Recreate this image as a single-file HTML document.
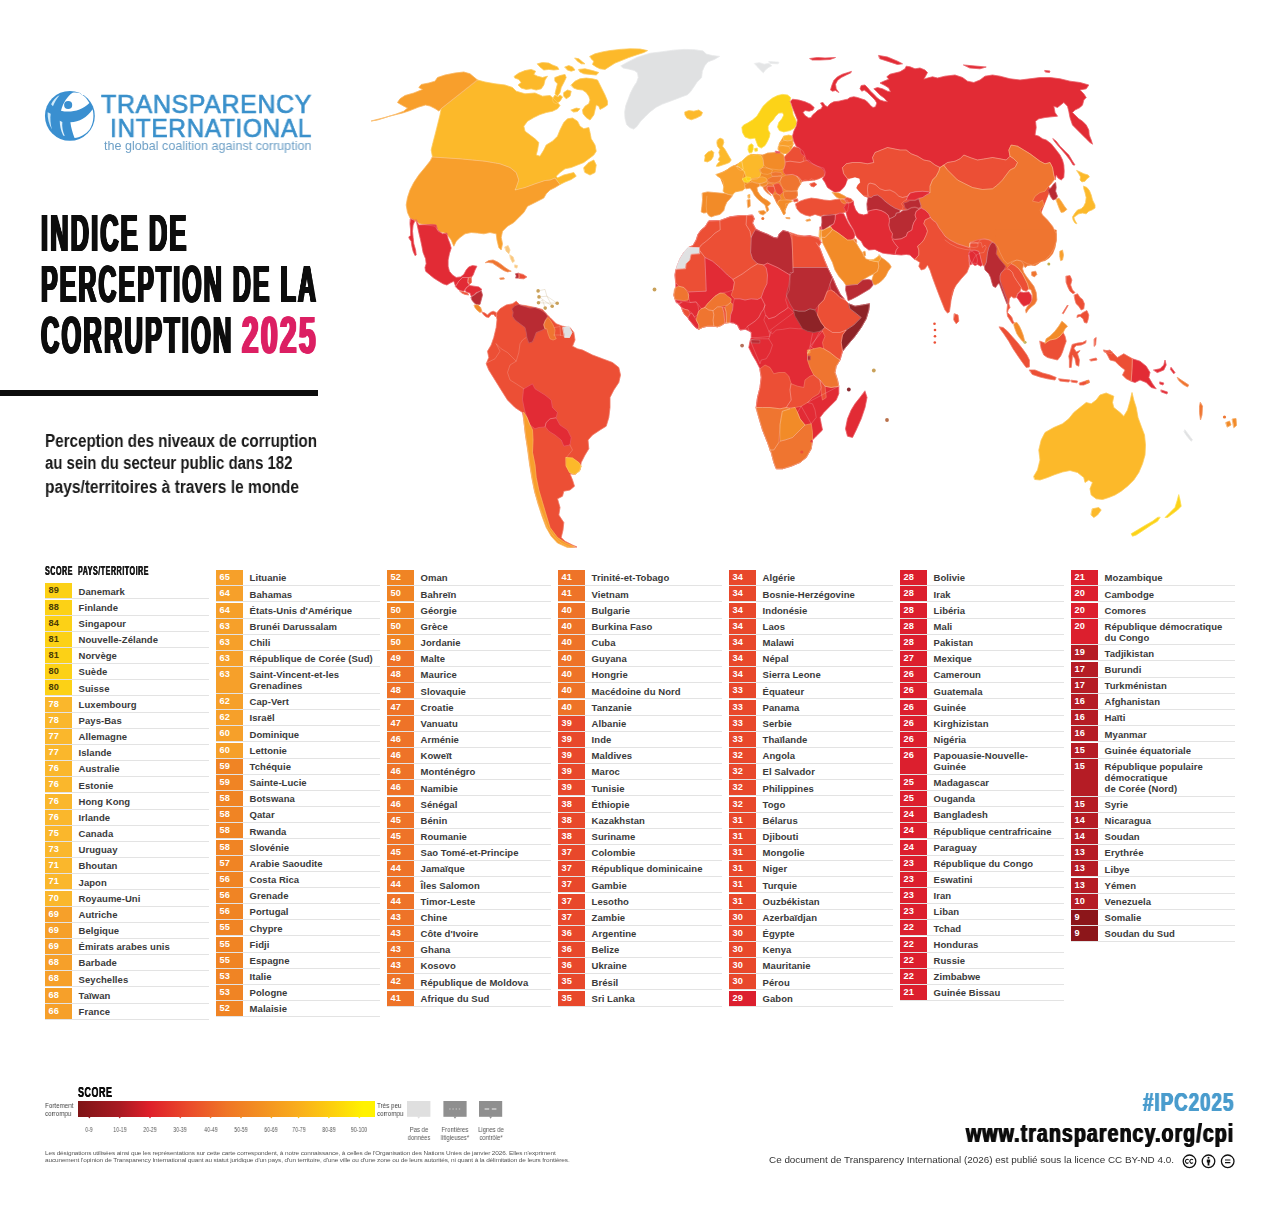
<!DOCTYPE html>
<html lang="fr"><head><meta charset="utf-8"><title>Indice de perception de la corruption 2025</title>
<style>
html,body{margin:0;padding:0;background:#fff}
body{width:1280px;height:1215px;overflow:hidden;font-family:"Liberation Sans",sans-serif;color:#111}
#page{position:relative;width:1280px;height:1215px;overflow:hidden;background:#fff}
#map{position:absolute;left:0;top:0}
.t{position:absolute;white-space:nowrap;line-height:1;transform-origin:0 0;margin:0}
.cond{font-weight:bold}
/* table */
.r{position:absolute;width:164px;border-bottom:1px solid #e3e3e3;box-sizing:content-box}
.r .s{position:absolute;left:0;top:0;bottom:0;width:27px;box-sizing:border-box;padding-left:3.6px;color:#fff;font-size:9.2px;line-height:15px;font-weight:bold;letter-spacing:.1px}
.r .s.d{color:#4b3b05}
.r .n{position:absolute;left:33.6px;top:2.2px;font-size:9.5px;line-height:11px;font-weight:bold;color:#3a3a3a;white-space:nowrap;letter-spacing:.05px}
.thick{letter-spacing:4.5px;text-shadow:2.3px 0 0 currentColor,-2.3px 0 0 currentColor,1.2px 0 0 currentColor,-1.2px 0 0 currentColor}
.t{will-change:transform}
.tk{font-size:6.6px;color:#555;text-align:center;transform:scaleX(.8);transform-origin:50% 0}
.tk2{font-size:7.4px;line-height:7.8px;color:#555;text-align:center;transform:scaleX(.8);transform-origin:50% 0}
.thick2{letter-spacing:.9px;text-shadow:.45px 0 0 currentColor,-.45px 0 0 currentColor}
.thick3{letter-spacing:1.4px;text-shadow:.8px 0 0 currentColor,-.8px 0 0 currentColor}
.cd{transform:scaleX(.78)}

</style></head>
<body>
<div id="page">
<svg id="map" width="1280" height="1215" viewBox="0 0 1280 1215">
<g stroke-linejoin="round" stroke-linecap="round">
<path d="M621.1 65.8 628.1 61.9 637.5 57.2 650.0 53.3 662.5 51.7 673.4 50.2 684.4 49.4 693.8 49.7 703.1 50.9 706.2 54.1 712.5 55.6 719.5 56.4 714.1 59.5 707.8 61.9 704.7 65.8 702.3 71.2 701.6 77.5 696.9 82.2 693.8 86.9 690.6 91.6 687.5 94.7 681.2 97.0 675.0 99.4 668.8 101.7 662.5 104.1 656.2 107.2 650.0 111.9 645.3 116.6 640.6 121.2 636.7 126.7 633.6 129.1 629.7 127.5 626.6 124.4 625.0 118.1 624.7 111.9 625.8 105.6 628.1 99.4 630.5 93.1 633.6 86.9 636.7 82.2 638.3 77.5 637.5 72.8 634.4 70.5 628.1 68.9 623.4 68.1Z" fill="#e0e1e2" stroke="#e0e1e2" stroke-width=".7"/>
<path d="M754.7 63.4 759.4 62.7 764.1 64.2 768.8 63.4 771.9 65.8 768.8 67.3 765.6 69.7 763.3 72.8 760.9 70.5 757.8 67.3Z" fill="#e4e5e6" stroke="#e4e5e6" stroke-width=".7"/>
<path d="M769.1 61.6 778.9 62.2 778.1 63.8 770.3 63.4Z" fill="#e4e5e6" stroke="#e4e5e6" stroke-width=".7"/>
<path d="M477.5 80.0 485.0 82.0 495.0 83.8 505.0 85.0 512.5 87.5 516.2 91.2 525.0 93.8 535.0 93.0 542.5 96.2 550.0 95.5 553.8 98.8 557.5 102.5 560.0 105.5 557.5 108.8 552.5 111.2 546.2 112.5 540.0 114.5 533.8 117.5 527.5 121.2 523.8 126.2 525.0 131.2 530.0 135.0 535.0 138.8 538.8 142.5 537.5 150.0 536.2 155.0 540.0 156.2 543.8 150.0 546.2 145.0 552.5 141.2 557.5 136.2 560.0 130.0 563.8 122.5 567.5 118.8 572.5 118.0 577.5 121.2 580.0 126.2 583.8 128.8 588.8 127.5 590.0 132.5 591.2 138.8 595.0 145.0 596.2 151.2 593.8 155.0 588.8 158.8 583.8 162.5 577.5 165.0 571.2 167.5 565.0 168.8 560.0 172.5 556.2 176.2 557.5 178.0 563.8 175.0 568.8 173.8 573.8 172.5 576.2 176.2 571.2 179.5 565.0 182.0 560.0 184.5 557.5 181.2 555.0 178.0 550.0 180.0 545.0 180.5 535.0 183.8 525.0 187.5 515.0 190.0 516.2 187.5 518.8 180.0 516.2 172.5 510.0 167.5 500.0 163.8 485.0 161.2 460.0 158.8 432.5 157.0 431.2 150.0 433.0 142.5 435.0 135.0 437.5 125.0 440.0 115.0 441.2 108.8Z" fill="#fcb92a" stroke="#fcb92a" stroke-width=".7"/>
<path d="M583.8 167.5 588.8 162.5 593.8 160.0 596.2 165.0 595.0 172.5 590.0 175.0 585.0 172.5Z" fill="#fcb92a" stroke="#fcb92a" stroke-width=".7"/>
<path d="M514.4 76.2 518.8 73.1 525.0 70.6 531.2 69.4 535.6 71.2 533.8 74.4 537.5 76.2 542.5 77.5 547.5 76.2 545.0 80.0 543.8 85.0 541.2 88.8 536.2 90.0 531.2 88.8 526.2 89.4 521.2 88.1 518.1 85.0 521.2 82.5 518.8 79.4 515.0 78.1Z" fill="#fcb92a" stroke="#fcb92a" stroke-width=".7"/>
<path d="M555.0 77.5 560.0 75.6 565.0 74.4 566.2 77.5 563.8 82.5 561.2 87.5 560.0 92.5 557.5 96.2 555.0 93.8 556.2 88.8 557.5 83.8 555.0 81.2Z" fill="#fcb92a" stroke="#fcb92a" stroke-width=".7"/>
<path d="M552.5 98.8 555.0 95.0 558.1 96.9 560.0 95.0 562.5 96.9 560.0 101.2 556.2 103.8 553.8 102.5Z" fill="#fcb92a" stroke="#fcb92a" stroke-width=".7"/>
<path d="M537.5 63.8 542.5 62.5 548.8 63.1 552.5 65.0 557.5 66.9 558.8 69.4 553.8 70.0 548.8 69.4 543.8 70.0 540.0 66.9Z" fill="#fcb92a" stroke="#fcb92a" stroke-width=".7"/>
<path d="M565.0 66.9 568.8 65.6 572.5 66.9 575.0 70.0 571.2 71.2 567.5 70.0Z" fill="#fcb92a" stroke="#fcb92a" stroke-width=".7"/>
<path d="M578.8 69.4 585.0 68.8 592.5 70.6 598.8 72.5 596.2 75.0 590.0 74.4 583.8 73.8 580.0 71.9Z" fill="#fcb92a" stroke="#fcb92a" stroke-width=".7"/>
<path d="M590.0 56.2 595.0 53.8 602.5 51.9 610.0 50.6 620.0 49.4 630.0 48.8 640.0 49.0 647.5 50.6 643.8 52.5 636.2 55.0 628.8 57.5 621.2 60.6 615.0 63.1 610.0 66.2 605.0 69.4 600.0 68.8 596.2 66.9 592.5 64.4 593.8 61.2 591.2 58.8Z" fill="#fcb92a" stroke="#fcb92a" stroke-width=".7"/>
<path d="M575.0 58.1 578.8 58.8 582.5 61.9 585.0 63.8 581.2 63.8 577.5 61.2Z" fill="#fcb92a" stroke="#fcb92a" stroke-width=".7"/>
<path d="M571.2 85.0 575.0 81.2 580.0 78.8 586.2 78.1 592.5 78.8 597.5 80.0 600.0 85.0 602.5 90.0 605.0 95.0 607.5 101.2 607.5 105.0 603.8 107.5 600.0 109.4 598.8 106.2 596.2 105.0 595.0 110.0 593.8 115.0 590.0 120.0 586.2 117.5 583.1 113.8 582.5 110.0 585.0 106.2 588.8 103.8 590.0 100.0 588.8 96.2 586.2 92.5 582.5 90.0 577.5 89.4 573.8 88.1Z" fill="#fcb92a" stroke="#fcb92a" stroke-width=".7"/>
<path d="M571.2 110.0 576.2 108.1 580.0 108.8 577.5 111.5 573.8 112.0Z" fill="#fcb92a" stroke="#fcb92a" stroke-width=".7"/>
<path d="M563.8 92.5 567.5 90.0 571.2 91.2 570.0 96.2 566.2 98.8 563.8 96.2Z" fill="#fcb92a" stroke="#fcb92a" stroke-width=".7"/>
<path d="M432.5 157.0 460.0 158.8 485.0 161.2 500.0 163.8 510.0 167.5 516.2 172.5 518.8 180.0 516.2 187.5 515.0 190.0 525.0 187.5 535.0 183.8 545.0 180.5 550.0 180.0 555.0 178.0 557.5 181.2 560.0 184.5 555.0 187.5 550.0 190.0 546.2 193.8 543.8 198.0 535.0 202.5 527.5 206.2 523.8 212.5 520.0 216.2 513.8 222.5 507.5 226.2 502.5 231.2 501.2 237.5 502.5 243.8 501.2 250.0 498.8 247.5 497.0 240.0 496.2 233.8 490.0 232.5 483.8 233.8 477.5 233.0 471.2 232.5 465.0 233.8 460.0 237.5 456.2 241.2 453.8 246.2 451.2 240.0 447.5 235.0 443.8 232.5 438.8 232.0 435.0 226.2 427.5 225.0 420.0 223.8 411.2 218.8 410.0 218.0 407.5 212.5 406.2 205.0 407.5 197.5 410.0 190.0 413.8 182.5 418.8 175.0 425.0 167.5 430.0 161.2Z" fill="#f89f2c" stroke="#f89f2c" stroke-width=".7"/>
<path d="M477.5 80.0 470.0 73.8 463.8 72.0 455.0 73.0 445.0 75.0 437.5 77.5 435.0 81.2 428.8 83.0 421.2 84.5 418.8 87.5 422.5 89.5 413.8 93.0 405.0 95.5 400.0 98.8 397.5 102.5 402.5 105.5 407.5 108.0 403.8 111.2 395.0 114.5 385.0 117.5 375.0 120.0 371.2 121.0 377.5 120.0 390.0 116.0 402.5 113.0 410.0 110.5 418.8 107.0 425.5 105.0 430.0 106.0 435.0 108.5 438.8 111.0 441.2 108.8Z" fill="#f89f2c" stroke="#f89f2c" stroke-width=".7"/>
<path d="M416.2 220.0 418.8 225.0 432.5 224.4 436.2 225.0 437.5 230.0 442.5 233.8 446.9 233.1 448.1 238.8 450.0 243.8 451.2 248.1 449.4 253.8 448.1 260.0 448.1 266.2 449.4 271.2 452.5 275.0 456.2 277.5 460.6 276.9 463.8 274.4 466.2 270.0 468.8 266.9 472.5 265.6 476.9 266.2 475.0 270.0 473.1 275.0 471.2 277.5 468.1 277.5 462.5 277.5 458.8 281.2 455.6 286.2 453.8 281.2 450.0 283.1 446.9 285.0 443.1 283.8 438.8 281.2 433.8 278.1 429.4 274.4 425.6 271.2 425.0 267.5 426.2 263.8 425.6 258.8 423.1 252.5 421.9 246.2 420.6 240.0 418.8 232.5Z" fill="#e22b35" stroke="#e22b35" stroke-width=".7"/>
<path d="M410.6 218.8 412.5 219.4 415.0 220.6 413.1 225.0 412.5 231.2 413.1 237.5 413.8 243.8 415.6 250.0 416.2 255.0 415.0 255.6 413.1 251.2 411.9 246.2 411.2 241.2 409.4 238.8 408.8 236.9 410.6 235.6 410.6 230.0 410.0 223.8Z" fill="#e22b35" stroke="#e22b35" stroke-width=".7"/>
<path d="M455.6 286.2 458.8 281.2 462.5 277.5 468.1 277.5 467.5 282.5 469.4 285.0 466.2 287.5 463.8 291.2 460.0 290.6 457.5 288.8Z" fill="#e22b35" stroke="#e22b35" stroke-width=".7"/>
<path d="M468.8 277.5 471.2 276.9 471.5 282.5 469.4 284.4 468.1 281.2Z" fill="#ec4f35" stroke="#ec4f35" stroke-width=".7"/>
<path d="M469.4 285.6 473.8 286.2 478.8 286.9 481.9 289.4 480.0 291.2 476.2 292.5 473.8 295.0 471.2 296.2 470.0 293.1 466.2 291.9 465.0 290.0 466.9 287.5Z" fill="#e22b35" stroke="#e22b35" stroke-width=".7"/>
<path d="M460.0 291.0 463.8 291.9 467.5 293.1 468.8 295.0 465.0 294.4 461.9 293.1Z" fill="#ec4f35" stroke="#ec4f35" stroke-width=".7"/>
<path d="M471.2 296.9 474.4 295.0 476.9 293.1 481.2 290.6 482.5 295.0 481.2 300.0 480.0 304.4 476.2 304.4 473.8 302.5 471.9 300.0Z" fill="#b92b33" stroke="#b92b33" stroke-width=".7"/>
<path d="M474.4 305.0 478.1 305.0 480.6 307.5 481.9 311.2 480.0 312.5 476.9 310.0 475.0 307.5Z" fill="#f28b28" stroke="#f28b28" stroke-width=".7"/>
<path d="M481.9 311.9 485.0 313.1 487.5 315.0 490.0 312.5 493.1 311.2 496.2 312.5 496.9 315.6 495.6 316.9 493.8 314.4 491.2 314.4 488.8 317.5 486.2 316.9 483.8 315.0Z" fill="#ec4f35" stroke="#ec4f35" stroke-width=".7"/>
<path d="M485.6 262.5 488.8 260.6 493.1 260.0 497.5 261.9 501.2 264.4 505.0 267.5 508.8 270.0 511.2 271.2 507.5 271.9 503.8 270.6 500.0 268.1 496.2 265.6 492.5 263.1 488.8 262.5Z" fill="#ef7530" stroke="#ef7530" stroke-width=".7"/>
<path d="M515.6 273.8 518.8 273.1 519.4 275.0 518.8 278.1 515.6 278.1 516.2 276.2Z" fill="#b92b33" stroke="#b92b33" stroke-width=".7"/>
<path d="M519.0 273.5 523.1 274.4 526.9 276.9 523.8 278.8 519.4 278.5Z" fill="#ec4f35" stroke="#ec4f35" stroke-width=".7"/>
<path d="M500.0 278.1 503.8 277.8 504.4 279.0 500.6 279.4Z" fill="#ef7530" stroke="#ef7530" stroke-width=".7"/>
<path d="M505.0 246.9 508.1 245.6 510.0 250.0 508.8 253.8 506.2 251.2Z" fill="#f9c77d" stroke="#f9c77d" stroke-width=".7"/>
<path d="M510.0 255.0 513.1 256.9 514.4 261.2 512.5 262.5 510.6 258.8Z" fill="#f9c77d" stroke="#f9c77d" stroke-width=".7"/>
<path d="M515.0 265.0 517.5 265.6 516.9 268.1 515.0 267.5Z" fill="#f9c77d" stroke="#f9c77d" stroke-width=".7"/>
<path d="M538.1 290.9 545.0 289.4 546.9 296.2 552.2 306.2 539.0 296.9 546.9 296.2 557.2 303.2 538.5 302.8 542.5 300.0 545.2 308.1" fill="none" stroke="#c9b48a" stroke-opacity="0.8" stroke-width="0.4"/>
<circle cx="538.1" cy="290.9" r="1.8" fill="#c9a15a"/>
<circle cx="539.0" cy="296.9" r="1.8" fill="#c9a15a"/>
<circle cx="538.5" cy="302.8" r="1.8" fill="#c9a15a"/>
<circle cx="545.2" cy="308.1" r="1.8" fill="#c9a15a"/>
<circle cx="552.2" cy="306.2" r="1.8" fill="#c9a15a"/>
<circle cx="557.2" cy="303.2" r="1.8" fill="#c9a15a"/>
<circle cx="654.5" cy="289.5" r="1.9" fill="#c9a15a"/>
<path d="M496.2 313.8 500.0 308.8 506.2 305.0 512.5 303.8 516.2 301.2 520.0 305.0 525.0 305.5 535.0 307.5 542.5 309.5 546.2 313.8 550.0 317.5 556.2 323.8 562.5 326.2 570.0 327.5 573.8 332.5 575.0 340.0 572.5 346.2 577.5 348.8 582.5 350.0 592.5 355.0 602.5 358.8 612.5 362.5 618.8 367.5 620.5 375.0 618.8 382.5 613.8 390.0 610.0 397.5 610.0 407.5 608.8 417.5 606.2 426.2 600.0 430.0 592.5 435.0 588.0 440.0 588.8 448.8 585.0 455.0 581.2 462.5 580.0 470.0 575.0 474.5 570.0 473.8 572.5 480.0 574.5 486.2 570.0 490.0 563.8 491.2 562.5 496.2 557.5 498.8 560.0 507.5 558.8 515.0 563.8 522.5 563.0 530.0 561.2 537.5 565.0 541.2 572.5 545.0 577.0 547.0 570.0 547.5 560.0 542.5 553.8 536.2 547.5 527.5 543.8 517.5 538.8 505.0 535.0 492.5 532.5 480.0 530.0 465.0 528.0 450.0 525.5 435.0 523.8 420.0 522.5 412.5 515.0 407.5 507.5 400.0 501.2 390.0 495.0 380.0 488.8 370.0 486.2 363.8 488.8 357.5 487.5 351.2 491.2 345.0 493.8 337.5 496.2 327.5 497.0 320.0Z" fill="#ec4f35" stroke="#ec4f35" stroke-width=".7"/>
<path d="M511.9 308.8 515.0 305.6 518.8 304.4 523.8 306.2 530.0 308.1 535.0 307.5 540.0 309.4 545.6 313.1 547.5 316.2 545.6 320.0 543.8 325.0 545.0 328.8 541.2 330.6 536.2 332.5 534.4 337.5 532.5 341.9 528.8 343.1 526.9 337.5 526.2 332.5 525.0 327.5 520.0 323.8 515.0 320.0 512.5 316.2 513.1 312.5Z" fill="#b92b33" stroke="#b92b33" stroke-width=".7"/>
<path d="M545.6 320.0 548.1 317.5 550.6 320.6 553.1 325.0 555.0 330.0 554.4 335.0 556.2 338.8 553.1 340.0 550.0 338.8 548.1 333.8 546.9 328.8 545.0 328.8 543.8 325.0Z" fill="#ef7530" stroke="#ef7530" stroke-width=".7"/>
<path d="M563.0 327.5 568.8 326.2 572.0 332.5 569.5 337.5 565.0 337.5Z" fill="#e0e1e2" stroke="#e0e1e2" stroke-width=".7"/>
<path d="M523.8 388.8 532.5 383.8 535.0 388.8 545.0 395.0 551.2 400.0 552.5 407.5 557.5 412.5 556.2 417.5 550.0 418.8 546.2 422.5 545.0 427.0 538.8 427.5 535.0 428.8 530.0 425.0 527.0 417.5 524.5 410.0 522.5 400.0Z" fill="#e22b35" stroke="#e22b35" stroke-width=".7"/>
<path d="M546.2 422.5 550.0 418.8 556.2 418.0 560.0 425.0 567.5 430.0 571.2 437.5 570.0 445.0 563.8 446.2 561.2 440.0 555.0 435.0 548.8 431.2 545.5 427.0Z" fill="#e22b35" stroke="#e22b35" stroke-width=".7"/>
<path d="M523.8 412.5 527.0 417.5 530.0 425.0 532.5 430.0 533.0 440.0 532.5 452.5 535.0 465.0 536.2 477.5 538.8 490.0 542.5 502.5 546.2 515.0 550.0 527.5 557.5 537.5 565.0 542.5 575.0 547.0 567.5 547.5 557.5 543.0 551.2 536.2 546.2 527.5 542.0 516.2 538.0 503.8 534.5 491.2 532.0 478.8 529.5 463.8 527.5 448.8 525.5 435.0 523.8 420.0Z" fill="#f89f2c" stroke="#f89f2c" stroke-width=".7"/>
<path d="M566.2 457.5 572.5 458.0 578.8 462.5 581.2 466.2 579.5 471.2 574.5 474.5 569.5 472.5 566.2 466.2Z" fill="#fcb92a" stroke="#fcb92a" stroke-width=".7"/>
<path d="M496.2 343.8 501.2 348.8 507.5 352.5 512.5 357.5 516.2 361.2 510.0 365.0 507.5 372.5 510.0 380.0 516.2 383.8 523.8 388.8" fill="none" stroke="#ffffff" stroke-opacity="0.4" stroke-width="0.45"/>
<path d="M487.5 362.5 495.0 358.8 500.0 351.2 496.2 343.8" fill="none" stroke="#ffffff" stroke-opacity="0.4" stroke-width="0.45"/>
<path d="M516.2 361.2 518.8 352.5 520.0 343.8 522.5 340.0 526.2 337.5" fill="none" stroke="#ffffff" stroke-opacity="0.4" stroke-width="0.45"/>
<path d="M570.0 445.0 572.5 450.0 567.5 456.2 566.2 457.5" fill="none" stroke="#ffffff" stroke-opacity="0.4" stroke-width="0.45"/>
<path d="M553.8 335.0 560.0 335.0 569.5 337.5" fill="none" stroke="#ffffff" stroke-opacity="0.4" stroke-width="0.45"/>
<path d="M554.5 327.5 560.0 326.5 560.0 326.5 560.5 335.5" fill="none" stroke="#ffffff" stroke-opacity="0.4" stroke-width="0.45"/>
<path d="M717.5 175.0 733.8 166.2 742.5 161.2 751.2 154.4 763.1 155.0 780.0 153.1 784.4 157.5 785.6 161.9 783.8 168.8 786.2 175.0 796.9 176.2 800.6 183.8 798.1 187.5 796.9 190.6 797.5 195.0 795.6 198.8 790.0 200.0 786.2 207.5 783.8 214.4 780.0 207.5 776.9 203.1 773.1 194.4 767.5 189.4 762.5 186.2 760.0 183.8 756.2 182.5 748.1 183.1 744.4 188.8 735.0 191.9 728.8 194.4 723.8 186.2 720.6 178.1Z" fill="#f28b28" stroke="#f28b28" stroke-width=".7"/>
<path d="M784.4 157.5 787.5 153.8 793.8 146.9 803.1 151.2 805.0 155.6 812.5 163.8 823.8 168.1 825.6 172.5 823.8 176.2 814.4 180.0 801.9 181.2 796.9 176.2 786.2 175.0 783.8 173.1 785.0 165.0Z" fill="#ec4f35" stroke="#ec4f35" stroke-width=".7"/>
<path d="M778.8 146.2 780.0 142.5 783.8 136.2 792.5 136.2 793.1 144.4 790.6 150.0 787.5 153.8 780.0 152.5Z" fill="#f89f2c" stroke="#f89f2c" stroke-width=".7"/>
<path d="M685.0 111.9 688.8 110.6 693.8 111.2 698.8 110.0 702.5 112.5 701.2 115.6 696.2 118.1 691.2 119.8 686.9 118.1 685.0 115.0Z" fill="#fcb92a" stroke="#fcb92a" stroke-width=".7"/>
<path d="M741.9 127.5 742.5 132.5 745.0 136.9 750.0 138.8 755.0 138.1 756.2 141.2 758.1 146.2 761.2 148.1 765.0 145.6 767.5 141.2 769.4 136.9 770.0 133.1 768.1 130.0 768.1 126.2 770.0 123.1 773.1 120.0 775.6 116.2 778.8 113.1 782.5 112.8 783.8 115.0 781.9 118.8 778.8 122.5 777.5 126.9 779.4 130.6 783.8 131.9 790.0 130.6 794.4 128.1 796.9 123.8 795.6 119.4 793.1 115.0 792.5 110.0 791.2 105.0 790.0 101.2 790.6 97.5 787.5 95.0 782.5 94.4 777.5 95.6 772.5 98.1 767.5 101.9 763.1 106.2 760.0 111.2 756.9 116.2 752.5 120.0 747.5 123.1 743.8 125.0Z" fill="#fcd318" stroke="#fcd318" stroke-width=".7"/>
<path d="M748.8 145.6 751.2 143.8 753.1 145.0 753.1 149.4 751.9 152.5 749.4 153.1 748.1 150.0Z" fill="#fcd318" stroke="#fcd318" stroke-width=".7"/>
<path d="M754.8 148.5 757.2 148.1 757.5 151.0 755.2 151.2Z" fill="#fcd318" stroke="#fcd318" stroke-width=".7"/>
<path d="M717.5 140.0 720.0 138.1 723.1 139.4 723.8 142.5 722.5 146.2 725.0 149.4 727.5 153.8 730.0 158.1 731.2 160.0 729.4 162.5 726.2 163.8 722.5 165.0 718.8 166.2 716.2 166.2 717.5 163.8 720.0 161.2 718.1 160.0 720.0 156.2 718.8 152.5 720.0 149.4 717.5 146.2 716.9 143.1Z" fill="#fcb92a" stroke="#fcb92a" stroke-width=".7"/>
<path d="M705.0 155.0 708.1 151.9 711.9 150.6 713.8 152.5 713.1 156.9 711.2 160.0 707.5 161.9 704.4 161.2 705.0 158.1Z" fill="#fcb92a" stroke="#fcb92a" stroke-width=".7"/>
<path d="M716.2 174.4 720.0 173.1 723.8 171.9 726.9 170.0 730.0 167.5 733.8 165.6 736.9 166.2 740.0 167.5 742.5 170.0 745.0 171.9 743.8 175.0 742.5 178.8 743.8 181.9 745.0 185.0 744.4 188.8 742.5 190.6 738.8 191.2 735.0 191.9 732.5 195.0 728.8 194.4 725.0 193.1 723.1 191.2 723.8 186.2 723.1 181.2 720.6 178.1 717.5 176.2Z" fill="#f89f2c" stroke="#f89f2c" stroke-width=".7"/>
<path d="M748.1 195.0 749.8 194.4 749.8 198.1 748.5 198.1Z" fill="#f89f2c" stroke="#f89f2c" stroke-width=".7"/>
<path d="M702.5 193.1 707.5 191.9 713.8 192.5 720.0 193.1 725.0 193.5 729.4 194.8 732.5 195.6 730.0 198.8 726.9 201.9 725.0 206.2 723.8 210.6 720.0 214.4 715.0 215.6 711.2 216.9 708.8 215.6 706.9 212.5 703.8 213.1 701.2 211.9 701.9 206.2 702.5 200.0Z" fill="#f28b28" stroke="#f28b28" stroke-width=".7"/>
<path d="M706.9 196.2 706.5 200.0 706.2 206.2 706.9 212.5" fill="none" stroke="#ffffff" stroke-opacity="0.4" stroke-width="0.45"/>
<path d="M736.9 166.2 738.8 163.1 741.9 161.2 742.5 165.0 743.1 168.8 742.5 170.0 740.0 167.5Z" fill="#fcb92a" stroke="#fcb92a" stroke-width=".7"/>
<path d="M736.9 166.2 740.0 167.5 742.5 170.0 740.6 170.6 738.1 169.0Z" fill="#f89f2c" stroke="#f89f2c" stroke-width=".7"/>
<path d="M741.9 161.2 745.0 158.1 748.1 155.6 751.2 154.4 753.8 155.0 757.5 154.4 761.2 155.6 763.1 160.0 763.5 165.0 762.5 167.5 760.0 169.4 761.2 172.5 760.0 176.2 757.5 178.8 753.8 179.4 750.6 180.0 747.5 181.2 746.2 178.8 745.6 175.0 744.4 171.9 742.5 170.0 743.1 168.8 742.5 165.0Z" fill="#fcb92a" stroke="#fcb92a" stroke-width=".7"/>
<path d="M742.5 178.8 746.2 176.9 750.6 177.5 751.2 180.0 748.1 182.5 744.4 181.9Z" fill="#fcd318" stroke="#fcd318" stroke-width=".7"/>
<path d="M751.2 178.8 757.5 177.5 762.5 176.9 766.2 178.1 766.9 181.2 762.5 183.1 757.5 183.8 753.8 182.5 751.2 181.2Z" fill="#f89f2c" stroke="#f89f2c" stroke-width=".7"/>
<path d="M744.4 185.0 748.1 183.1 752.5 181.9 756.2 182.5 760.0 183.8 759.4 186.2 756.9 187.5 757.5 191.2 760.0 195.0 763.1 198.1 767.5 200.6 770.6 203.1 769.4 205.0 767.5 206.2 768.8 210.0 766.9 211.9 766.2 208.8 765.0 205.0 761.2 201.9 757.5 198.8 754.4 195.0 752.5 191.2 750.0 188.1 746.2 188.8Z" fill="#f28b28" stroke="#f28b28" stroke-width=".7"/>
<path d="M758.8 211.2 763.8 210.6 766.2 212.5 763.1 215.0 760.0 213.8Z" fill="#f28b28" stroke="#f28b28" stroke-width=".7"/>
<path d="M747.5 200.0 750.0 199.4 750.2 206.2 748.1 207.5Z" fill="#f28b28" stroke="#f28b28" stroke-width=".7"/>
<circle cx="762.8" cy="218.5" r="1.5" fill="#ef7530"/>
<path d="M763.1 155.0 767.5 153.1 775.0 152.5 781.2 153.1 783.8 155.0 784.4 160.0 785.0 165.0 783.8 168.8 780.0 170.0 775.0 169.4 770.0 168.8 766.2 167.5 763.8 165.0 763.1 160.0Z" fill="#f28b28" stroke="#f28b28" stroke-width=".7"/>
<path d="M759.4 169.4 762.5 167.5 767.5 168.1 772.5 170.0 771.2 173.1 767.5 174.4 763.1 173.8 760.6 172.5Z" fill="#f28b28" stroke="#f28b28" stroke-width=".7"/>
<path d="M771.2 173.1 775.0 171.9 781.2 172.5 782.5 175.0 777.5 176.2 772.5 176.2Z" fill="#ef7530" stroke="#ef7530" stroke-width=".7"/>
<path d="M768.1 178.8 772.5 176.5 778.8 176.2 781.9 176.9 780.0 181.2 775.0 183.1 770.0 182.5 767.5 181.2Z" fill="#ef7530" stroke="#ef7530" stroke-width=".7"/>
<path d="M760.0 183.8 766.2 181.9 768.1 183.1 766.2 185.6 762.5 186.2 760.6 186.0Z" fill="#f28b28" stroke="#f28b28" stroke-width=".7"/>
<path d="M766.2 185.6 768.1 183.1 772.5 184.0 773.8 186.2 767.5 186.2 766.2 188.8 768.8 192.5 771.2 195.6 767.5 193.1 764.4 190.0 763.1 187.2Z" fill="#ef7530" stroke="#ef7530" stroke-width=".7"/>
<path d="M767.5 186.2 773.8 186.2 775.0 190.0 773.1 194.4 770.0 192.5 767.5 189.4Z" fill="#ec4f35" stroke="#ec4f35" stroke-width=".7"/>
<path d="M773.8 184.4 778.8 183.1 781.9 187.5 783.1 191.9 780.0 195.0 776.9 193.8 775.0 190.0Z" fill="#ec4f35" stroke="#ec4f35" stroke-width=".7"/>
<path d="M773.1 194.4 776.9 193.8 780.0 195.6 781.2 198.8 778.8 200.6 776.9 203.1 775.6 200.0 773.8 196.9Z" fill="#ef7530" stroke="#ef7530" stroke-width=".7"/>
<path d="M781.9 176.9 786.2 175.0 792.5 174.4 796.9 176.2 799.4 180.0 800.6 183.8 798.1 187.5 796.9 190.6 791.2 191.2 786.2 190.6 783.1 188.8 781.2 185.0 780.0 181.2Z" fill="#ef7530" stroke="#ef7530" stroke-width=".7"/>
<path d="M796.9 176.2 799.4 177.5 801.9 181.2 800.6 183.8 799.4 180.0Z" fill="#ef7530" stroke="#ef7530" stroke-width=".7"/>
<path d="M783.8 191.9 788.8 191.2 796.9 191.2 797.5 195.0 795.6 198.8 790.0 200.0 785.6 199.4 783.8 196.2Z" fill="#ef7530" stroke="#ef7530" stroke-width=".7"/>
<path d="M778.8 200.6 783.8 200.0 790.0 200.2 792.5 201.2 788.8 203.1 785.6 203.8 786.2 207.5 784.4 210.0 785.6 213.1 783.8 215.0 781.9 211.2 780.0 207.5 778.1 204.4Z" fill="#f28b28" stroke="#f28b28" stroke-width=".7"/>
<path d="M786.2 217.5 790.0 217.8 789.8 218.8 786.5 218.5Z" fill="#f28b28" stroke="#f28b28" stroke-width=".7"/>
<path d="M783.8 136.2 788.8 135.0 792.5 136.2 791.9 140.0 787.5 141.2 783.8 140.0Z" fill="#fcb92a" stroke="#fcb92a" stroke-width=".7"/>
<path d="M780.0 142.5 783.8 140.6 791.9 140.2 793.1 144.4 788.8 146.2 783.1 145.6 779.4 145.0Z" fill="#f89f2c" stroke="#f89f2c" stroke-width=".7"/>
<path d="M778.8 146.2 783.1 145.6 788.8 146.5 790.6 150.0 787.5 153.1 783.8 153.8 780.0 151.9 778.1 149.4Z" fill="#f89f2c" stroke="#f89f2c" stroke-width=".7"/>
<path d="M775.6 151.2 780.0 151.9 780.0 153.1 776.0 152.9Z" fill="#e22b35" stroke="#e22b35" stroke-width=".7"/>
<path d="M787.5 153.8 791.2 150.0 793.8 146.9 798.8 147.5 803.1 151.2 805.0 155.6 803.1 158.1 803.8 161.2 800.0 162.5 795.0 161.9 790.0 161.2 785.6 161.9 784.4 157.5Z" fill="#ec4f35" stroke="#ec4f35" stroke-width=".7"/>
<path d="M785.0 165.0 785.6 161.9 790.0 161.2 795.0 161.9 800.0 162.5 803.8 161.2 808.8 160.0 812.5 163.8 817.5 166.2 823.8 168.1 825.6 172.5 823.8 176.2 818.8 178.8 814.4 180.0 811.2 178.8 808.8 180.6 805.0 180.0 801.9 181.2 800.0 178.8 796.9 176.2 792.5 174.4 786.2 175.0 783.8 173.1 783.1 170.0 783.8 168.8Z" fill="#ec4f35" stroke="#ec4f35" stroke-width=".7"/>
<path d="M810.0 183.8 814.4 182.5 816.9 184.4 813.8 186.9 811.2 186.2Z" fill="#ec4f35" stroke="#ec4f35" stroke-width=".7"/>
<path d="M795.6 203.8 800.0 201.2 805.0 199.4 811.2 198.1 817.5 198.8 823.8 200.0 830.0 200.6 836.2 199.4 842.5 198.8 847.5 200.6 848.8 205.0 847.5 211.2 842.5 213.1 835.0 214.4 830.0 215.6 823.8 215.0 820.6 216.2 815.0 214.4 810.0 216.2 805.0 215.0 800.0 212.5 796.9 208.8Z" fill="#ec4f35" stroke="#ec4f35" stroke-width=".7"/>
<path d="M793.1 199.4 797.5 198.8 798.1 201.2 794.4 201.9Z" fill="#ec4f35" stroke="#ec4f35" stroke-width=".7"/>
<path d="M806.2 220.0 810.0 219.0 810.6 220.6 806.9 221.2Z" fill="#f28b28" stroke="#f28b28" stroke-width=".7"/>
<path d="M790.5 101.2 792.5 99.2 798.8 100.0 805.0 101.8 810.5 104.2 814.2 107.5 813.0 110.0 809.2 111.2 805.0 110.5 803.0 112.5 805.0 115.5 808.8 118.0 811.2 117.5 812.5 115.0 815.5 112.5 817.5 110.5 821.2 108.8 822.5 106.2 820.5 103.0 823.0 102.5 825.0 105.5 827.5 106.8 830.0 103.8 833.8 101.8 838.8 101.2 843.8 100.0 847.5 99.2 850.0 97.5 853.8 96.8 857.5 97.5 861.2 98.8 865.0 100.0 868.0 102.5 870.5 105.5 873.0 107.5 875.5 106.8 876.8 103.0 875.0 100.0 872.5 97.5 870.0 95.0 867.5 92.5 864.2 90.0 861.8 91.2 860.0 88.8 861.2 85.5 865.0 85.0 867.5 87.5 870.5 91.2 873.8 94.2 876.8 97.5 880.0 100.0 883.8 101.2 887.5 101.8 884.2 98.0 880.0 95.0 876.8 91.8 873.8 88.8 877.5 87.5 882.5 88.8 887.5 91.2 890.5 91.8 888.8 88.0 885.0 85.5 880.0 83.0 883.8 81.2 888.8 79.2 886.8 76.8 890.0 74.2 895.0 73.0 900.0 71.8 905.0 68.8 906.2 66.2 910.0 66.8 915.0 68.8 920.0 68.0 925.0 70.0 927.5 72.5 925.5 76.2 923.8 79.2 927.5 78.0 932.5 76.8 937.5 78.0 945.0 76.2 955.0 75.0 962.5 77.5 967.5 81.2 973.8 82.5 980.0 80.0 985.0 76.2 992.5 75.0 1000.0 76.2 1010.0 78.8 1020.0 80.0 1030.0 78.8 1040.0 77.5 1050.0 77.5 1060.0 78.8 1070.0 81.2 1080.0 82.5 1088.8 85.0 1086.2 88.8 1080.0 90.0 1083.8 93.8 1086.2 97.5 1083.8 100.0 1082.5 105.0 1080.0 107.5 1075.0 110.0 1072.5 112.5 1075.0 115.0 1078.8 118.8 1082.5 121.2 1086.2 125.0 1088.8 130.0 1089.2 135.0 1091.2 140.0 1092.5 144.2 1090.0 142.5 1086.2 138.8 1081.2 133.8 1076.2 128.8 1072.5 125.0 1070.0 117.5 1068.8 111.2 1067.5 106.2 1063.8 102.5 1060.0 105.5 1057.5 107.5 1053.8 106.2 1055.0 112.5 1057.5 116.2 1051.2 116.8 1045.0 117.5 1038.8 118.8 1035.5 121.2 1036.2 127.5 1035.0 135.0 1038.8 136.2 1042.5 138.8 1046.2 140.0 1051.2 143.8 1056.2 150.0 1060.0 155.0 1062.5 160.0 1063.8 165.0 1064.2 171.2 1063.8 177.5 1061.2 180.0 1058.0 178.0 1056.2 175.0 1055.0 180.0 1053.8 175.0 1052.5 167.5 1050.0 162.5 1045.0 163.8 1040.0 161.2 1035.0 157.5 1030.0 153.8 1023.8 150.0 1017.5 146.2 1011.2 145.0 1008.8 150.0 1010.0 156.2 1006.2 160.0 1000.0 158.8 992.5 157.5 985.0 158.8 977.5 160.0 970.0 157.5 963.8 155.0 960.0 158.8 955.0 161.2 947.5 162.5 943.8 165.0 940.0 167.5 935.0 165.0 930.0 161.2 923.8 160.0 917.5 156.2 911.2 153.8 906.2 150.0 900.0 150.0 893.8 148.8 887.5 147.5 881.2 150.0 875.0 152.5 872.5 157.5 873.8 162.5 867.5 163.8 860.0 162.5 852.5 162.5 846.2 163.8 842.5 167.5 843.8 173.8 847.5 178.8 846.2 183.8 843.8 187.5 840.0 191.2 835.0 192.5 831.2 190.0 827.5 187.5 825.0 182.5 822.5 178.8 825.0 175.0 823.8 170.0 820.0 167.5 815.0 165.0 810.0 162.5 806.2 160.0 805.0 156.2 801.2 153.8 800.0 148.8 796.2 146.2 793.8 141.2 792.5 136.2 793.8 131.2 796.2 126.2 797.5 120.0 795.0 113.8 792.5 107.5Z" fill="#e22b35" stroke="#e22b35" stroke-width=".7"/>
<path d="M851.2 71.5 848.0 72.5 842.5 74.2 837.5 76.8 833.8 80.5 831.8 85.5 830.5 90.0 832.5 91.2 835.5 90.5 838.8 92.5 836.2 88.8 835.5 84.2 837.5 80.5 841.2 77.5 846.2 75.0 850.5 73.0Z" fill="#e22b35" stroke="#e22b35" stroke-width=".7"/>
<path d="M878.8 55.5 887.5 57.0 897.5 61.2 902.5 63.8 897.5 64.5 887.5 61.2 880.0 58.8Z" fill="#e22b35" stroke="#e22b35" stroke-width=".7"/>
<path d="M963.8 65.0 975.0 66.0 986.2 67.0 980.0 68.8 970.0 68.0Z" fill="#e22b35" stroke="#e22b35" stroke-width=".7"/>
<path d="M810.0 58.5 817.5 57.5 825.0 58.0 835.5 57.5 830.0 59.5 820.0 60.0 812.5 60.0Z" fill="#e22b35" stroke="#e22b35" stroke-width=".7"/>
<path d="M1045.0 70.5 1050.0 71.0 1049.5 72.5 1045.5 72.0Z" fill="#e22b35" stroke="#e22b35" stroke-width=".7"/>
<path d="M860.0 182.5 868.1 184.4 910.0 193.1 930.0 193.1 930.6 217.5 945.0 236.2 970.0 247.5 970.0 250.0 945.0 241.2 927.5 220.0 921.2 208.1 900.0 210.0 868.1 197.5 863.1 195.6 858.8 191.2 856.2 188.1 857.5 185.0Z" fill="#ec4f35" stroke="#ec4f35" stroke-width=".7"/>
<path d="M853.1 201.2 889.4 218.8 895.0 239.4 895.0 254.4 878.8 251.2 857.5 238.1 846.2 212.5Z" fill="#e22b35" stroke="#e22b35" stroke-width=".7"/>
<path d="M930.0 187.5 942.5 170.0 1005.0 165.0 1042.5 170.0 1050.0 190.0 1040.0 215.0 1052.5 235.0 1045.0 257.5 1017.5 262.5 1012.5 290.0 1002.5 275.0 990.0 257.5 972.5 252.5 955.0 285.0 948.0 310.0 932.5 265.0 920.0 255.0 920.0 215.0Z" fill="#ec4f35" stroke="#ec4f35" stroke-width=".7"/>
<path d="M842.5 167.5 846.2 163.8 852.5 162.5 860.0 162.5 867.5 163.8 873.8 162.5 872.5 157.5 875.0 152.5 881.2 150.0 887.5 147.5 893.8 148.8 900.0 150.0 906.2 150.0 911.2 153.8 917.5 156.2 923.8 160.0 930.0 161.2 935.0 165.0 940.0 167.5 938.8 171.2 936.2 176.2 932.5 180.0 930.0 186.2 930.0 193.0 928.8 191.8 922.5 191.2 915.0 191.8 910.0 193.0 907.5 196.2 902.5 197.5 898.8 196.2 895.0 192.5 890.0 190.0 885.0 190.5 880.0 188.8 875.0 184.2 870.0 183.0 868.0 184.2 867.5 190.0 868.0 196.2 863.0 195.5 858.8 191.2 856.2 188.0 857.5 185.0 860.0 182.5 859.2 178.8 855.0 177.5 850.0 178.8 847.5 178.8 843.8 173.8Z" fill="#ec4f35" stroke="#ec4f35" stroke-width=".7"/>
<path d="M943.8 165.0 947.5 162.5 955.0 161.2 960.0 158.8 963.8 155.0 970.0 157.5 977.5 160.0 985.0 158.8 992.5 157.5 1000.0 158.8 1006.2 160.0 1010.0 156.2 1013.8 158.8 1017.5 162.5 1015.0 167.5 1010.0 170.0 1006.2 175.0 1002.5 180.0 997.5 185.0 992.5 188.8 982.5 189.5 972.5 187.5 965.0 183.8 957.5 180.0 952.5 175.0 947.5 170.0Z" fill="#ec4f35" stroke="#ec4f35" stroke-width=".7"/>
<path d="M940.0 167.5 943.8 165.0 947.5 170.0 952.5 175.0 957.5 180.0 965.0 183.8 972.5 187.5 982.5 189.5 992.5 188.8 997.5 185.0 1002.5 180.0 1006.2 175.0 1010.0 170.0 1015.0 167.5 1017.5 162.5 1013.8 158.8 1010.0 156.2 1008.8 150.0 1011.2 145.0 1017.5 146.2 1023.8 150.0 1030.0 153.8 1035.0 157.5 1040.0 161.2 1045.0 163.8 1050.0 162.5 1052.5 167.5 1053.8 175.0 1055.0 178.8 1051.2 183.8 1047.5 187.5 1045.0 191.2 1040.0 192.5 1035.0 196.2 1032.5 201.2 1038.8 202.5 1042.5 200.0 1043.8 205.0 1040.0 210.0 1042.5 215.0 1047.5 220.0 1052.5 226.2 1056.2 233.8 1056.2 241.2 1053.8 248.8 1050.0 255.0 1045.0 260.0 1038.8 262.5 1032.5 265.0 1027.5 263.8 1022.5 261.2 1017.5 260.0 1012.5 261.2 1007.5 263.8 1003.8 260.0 1000.0 252.5 997.5 246.2 993.8 242.5 990.0 240.0 985.0 238.8 980.0 240.0 978.0 243.0 970.0 243.0 969.2 247.5 965.0 246.2 957.5 243.8 950.0 240.0 945.0 236.2 942.5 232.5 938.8 227.5 936.2 222.5 932.5 220.0 930.5 217.5 928.8 213.8 925.0 210.0 921.2 208.0 921.2 206.2 920.0 202.5 918.8 198.8 922.5 197.5 926.2 195.0 930.0 193.0 930.0 186.2 932.5 180.0 936.2 176.2 938.8 171.2Z" fill="#ef7530" stroke="#ef7530" stroke-width=".7"/>
<path d="M850.0 178.8 855.0 177.5 859.4 178.8 860.0 182.5 857.5 185.0 856.2 188.1 858.8 191.2 862.5 195.0 865.0 198.1 864.4 201.2 866.9 203.8 867.5 210.0 868.1 213.8 863.8 215.0 858.8 213.8 855.6 210.0 853.8 205.0 853.1 200.0 850.0 196.2 847.5 191.2 845.6 186.2 846.9 181.9Z" fill="#ffffff"/>
<path d="M868.1 185.0 870.0 183.1 875.0 184.4 880.0 188.8 885.0 190.6 890.0 190.0 895.0 192.5 898.8 196.2 902.5 197.5 907.5 196.2 910.0 193.1 907.5 196.9 906.2 200.0 903.8 201.2 901.2 203.8 903.1 206.2 902.5 209.4 900.0 210.0 895.0 208.1 890.0 205.0 885.0 201.2 881.2 197.5 877.5 195.0 873.8 195.6 871.2 197.5 868.1 196.2 867.5 190.0Z" fill="#ec4f35" stroke="#ec4f35" stroke-width=".7"/>
<path d="M866.9 203.8 868.1 197.5 871.2 197.5 873.8 195.6 877.5 195.0 881.2 197.5 885.0 201.2 890.0 205.0 895.0 208.1 900.0 210.0 899.4 212.5 896.2 213.1 895.6 215.6 892.5 217.5 889.4 218.8 888.1 215.0 885.0 212.5 881.2 210.6 876.2 209.4 872.5 210.0 868.1 211.2 867.5 210.0Z" fill="#b92b33" stroke="#b92b33" stroke-width=".7"/>
<path d="M910.0 193.1 915.0 191.9 922.5 191.2 928.8 191.9 930.0 193.1 926.2 195.0 922.5 197.5 918.8 198.1 915.0 200.0 910.0 200.0 906.2 200.0 907.5 196.9Z" fill="#e22b35" stroke="#e22b35" stroke-width=".7"/>
<path d="M903.8 203.1 907.5 201.9 910.0 200.6 915.0 200.6 918.8 198.8 920.0 202.5 921.2 206.2 918.8 208.1 915.0 206.9 911.2 207.5 907.5 209.4 905.0 208.1 904.4 205.6Z" fill="#b92b33" stroke="#b92b33" stroke-width=".7"/>
<path d="M889.4 218.8 892.5 217.5 895.6 215.6 896.2 213.1 900.0 212.5 903.1 210.6 907.5 210.0 911.2 208.1 915.0 207.5 918.8 208.8 921.2 207.5 916.2 211.2 915.0 215.0 916.2 218.8 913.8 222.5 912.5 226.2 911.9 230.0 907.5 232.5 906.2 236.2 901.2 238.8 895.0 239.4 891.9 237.5 892.5 233.8 890.0 230.0 888.8 225.0 889.4 221.2Z" fill="#b92b33" stroke="#b92b33" stroke-width=".7"/>
<path d="M853.1 201.2 850.0 202.5 846.2 203.8 843.8 207.5 846.2 212.5 847.5 218.8 850.0 223.8 853.8 230.0 855.6 235.0 857.5 238.1 861.2 241.2 863.8 246.2 868.8 250.0 875.0 249.4 878.8 251.2 882.5 253.1 887.5 253.8 895.0 254.4 896.2 250.0 898.1 247.5 895.0 243.8 892.5 240.0 891.9 237.5 892.5 233.8 890.0 230.0 888.8 225.0 889.4 221.2 889.4 218.8 888.1 215.0 885.0 212.5 881.2 210.6 876.2 209.4 872.5 210.0 868.1 211.2 868.1 213.8 863.8 215.0 858.8 213.8 855.6 210.0 853.8 205.0Z" fill="#e22b35" stroke="#e22b35" stroke-width=".7"/>
<path d="M895.0 239.4 901.2 238.8 906.2 236.2 907.5 232.5 911.9 230.0 912.5 226.2 913.8 222.5 916.2 218.8 915.0 215.0 916.2 211.2 921.2 208.1 925.0 210.0 928.8 213.8 930.6 217.5 927.5 218.8 925.0 220.0 923.8 223.8 926.2 227.5 927.5 231.2 926.2 235.0 923.8 240.0 921.2 243.1 917.5 246.2 918.8 250.0 918.8 255.0 915.0 259.4 912.5 257.5 910.0 255.0 906.2 254.4 901.2 255.0 895.0 254.4 896.2 250.0 898.1 247.5 895.0 243.8 892.5 240.0Z" fill="#e22b35" stroke="#e22b35" stroke-width=".7"/>
<path d="M930.6 217.5 932.5 220.0 936.2 222.5 938.8 227.5 942.5 232.5 945.0 236.2 950.0 240.0 957.5 243.8 965.0 246.2 969.4 247.5 970.0 243.1 978.1 243.1 981.2 242.5 982.5 247.5 985.0 245.0 986.2 247.5 983.8 252.5 980.0 253.1 976.2 255.0 973.8 258.8 971.9 263.8 970.0 260.0 968.8 255.0 968.8 260.0 969.4 266.2 966.9 272.5 961.2 278.8 956.2 285.0 952.5 291.2 951.2 297.5 950.6 303.8 949.4 311.9 947.5 313.1 945.0 310.0 940.0 297.5 936.2 287.5 932.5 277.5 930.0 270.0 927.5 265.0 925.0 268.8 921.2 270.0 918.8 266.2 920.0 262.5 916.2 260.0 915.0 259.4 918.8 255.0 918.8 250.0 917.5 246.2 921.2 243.1 923.8 240.0 926.2 235.0 927.5 231.2 926.2 227.5 923.8 223.8 925.0 220.0 927.5 218.8Z" fill="#ec4f35" stroke="#ec4f35" stroke-width=".7"/>
<path d="M945.0 240.0 950.0 243.8 957.5 247.5 965.0 249.4 970.0 250.0" fill="none" stroke="#ffffff" stroke-opacity="0.45" stroke-width="0.4"/>
<path d="M970.0 243.1 973.8 241.9 978.1 243.1 977.8 246.9 973.8 247.5 970.0 246.9Z" fill="#fcb92a" stroke="#fcb92a" stroke-width=".7"/>
<path d="M968.8 252.5 972.5 251.2 976.2 255.0 977.5 260.0 976.9 263.8 974.4 263.1 971.9 263.8 970.0 260.0 968.8 255.0Z" fill="#e22b35" stroke="#e22b35" stroke-width=".7"/>
<path d="M832.5 192.5 838.8 193.1 843.8 195.6 846.9 197.5 843.8 198.8 840.0 198.8 836.2 196.9Z" fill="#f28b28" stroke="#f28b28" stroke-width=".7"/>
<path d="M840.6 199.4 843.8 199.0 846.9 202.5 844.4 203.8 841.9 202.5Z" fill="#ef7530" stroke="#ef7530" stroke-width=".7"/>
<path d="M843.8 198.8 846.9 197.5 851.2 198.8 853.1 201.2 850.0 203.1 846.9 202.5Z" fill="#ec4f35" stroke="#ec4f35" stroke-width=".7"/>
<path d="M821.9 216.2 827.5 215.0 832.5 214.4 835.6 215.0 835.0 220.0 833.8 223.8 830.0 225.6 826.2 228.1 823.1 230.0 821.2 228.1 821.9 222.5Z" fill="#b92b33" stroke="#b92b33" stroke-width=".7"/>
<path d="M835.6 215.0 840.0 212.5 843.8 213.8 846.2 218.8 848.8 223.8 853.1 230.0 855.0 235.0 853.8 238.8 850.6 240.0 847.5 240.0 842.5 236.2 837.5 232.5 832.5 229.4 830.6 226.2 833.8 223.8 835.0 220.0Z" fill="#e22b35" stroke="#e22b35" stroke-width=".7"/>
<path d="M820.2 226.9 821.8 226.9 821.5 230.0 820.2 230.0Z" fill="#e22b35" stroke="#e22b35" stroke-width=".7"/>
<path d="M819.8 230.0 821.5 230.0 821.2 235.0 820.2 240.0 819.2 236.2Z" fill="#f89f2c" stroke="#f89f2c" stroke-width=".7"/>
<path d="M821.2 231.2 826.2 228.8 830.6 226.9 832.5 229.4 830.0 232.5 827.5 235.0 825.0 237.5 821.9 236.9Z" fill="#f28b28" stroke="#f28b28" stroke-width=".7"/>
<path d="M821.9 237.5 825.0 237.5 827.5 235.0 830.0 232.5 832.5 229.4 837.5 232.5 842.5 236.2 847.5 240.0 850.6 240.0 853.8 240.0 856.2 243.1 858.8 247.5 861.2 251.2 863.8 255.0 865.6 258.8 869.4 260.0 873.8 261.2 878.1 261.9 878.8 266.2 877.5 271.2 873.8 273.8 868.8 276.2 862.5 280.0 857.5 284.4 851.2 285.0 846.2 285.6 843.8 281.9 838.8 276.2 835.0 270.0 832.5 262.5 828.8 255.0 825.0 247.5 822.5 242.5Z" fill="#f28b28" stroke="#f28b28" stroke-width=".7"/>
<path d="M853.8 238.8 856.2 239.4 856.9 242.5 855.0 241.9Z" fill="#ef7530" stroke="#ef7530" stroke-width=".7"/>
<path d="M863.1 251.9 865.0 251.2 865.6 255.6 863.8 256.2Z" fill="#f28b28" stroke="#f28b28" stroke-width=".7"/>
<path d="M869.4 260.0 873.8 259.4 877.5 256.9 879.4 255.0 880.6 258.8 878.8 261.9 873.8 261.2Z" fill="#f89f2c" stroke="#f89f2c" stroke-width=".7"/>
<path d="M879.4 255.0 881.2 257.5 885.0 260.0 889.4 263.8 891.2 266.9 888.1 271.2 885.6 276.2 882.5 280.0 878.8 283.1 875.0 285.0 873.1 283.8 871.9 280.0 873.8 273.8 877.5 271.2 878.8 266.2 878.1 261.9 880.6 258.8Z" fill="#f28b28" stroke="#f28b28" stroke-width=".7"/>
<path d="M846.2 285.6 851.2 285.0 857.5 284.4 862.5 280.0 868.8 279.4 871.9 280.6 873.1 285.0 870.0 288.8 863.8 292.5 857.5 296.2 851.2 299.4 848.1 300.6 846.9 295.0 845.6 290.0Z" fill="#b92b33" stroke="#b92b33" stroke-width=".7"/>
<path d="M954.5 313.8 958.0 315.0 958.8 321.2 956.2 323.8 953.8 320.0Z" fill="#ec4f35" stroke="#ec4f35" stroke-width=".7"/>
<path d="M1053.1 138.8 1056.2 141.2 1060.0 146.2 1065.0 151.2 1068.8 155.0 1072.5 161.2 1075.0 165.0 1073.1 165.0 1070.0 160.0 1066.2 155.0 1061.9 150.0 1057.5 145.0 1054.4 141.2Z" fill="#e22b35" stroke="#e22b35" stroke-width=".7"/>
<path d="M1076.9 170.6 1080.0 171.9 1083.8 173.8 1088.1 175.0 1089.4 176.9 1086.9 178.8 1085.0 181.2 1081.9 181.9 1080.0 180.0 1080.6 176.9 1078.8 173.8Z" fill="#fcb92a" stroke="#fcb92a" stroke-width=".7"/>
<path d="M1083.8 186.2 1086.9 187.5 1089.4 190.6 1091.2 195.0 1092.5 200.0 1095.0 205.0 1095.0 208.1 1091.9 210.0 1088.8 211.2 1086.2 213.8 1082.5 213.1 1078.8 213.8 1076.2 215.6 1073.8 217.5 1075.0 220.6 1076.9 223.8 1075.0 223.1 1073.1 220.0 1072.5 216.9 1075.0 213.1 1077.5 210.0 1081.2 208.8 1083.8 206.2 1085.6 202.5 1086.2 197.5 1085.0 192.5 1083.8 188.8Z" fill="#fcb92a" stroke="#fcb92a" stroke-width=".7"/>
<path d="M1048.1 190.0 1051.2 187.5 1053.8 183.8 1055.6 182.5 1056.2 187.5 1055.6 191.2 1057.5 196.2 1056.2 198.8 1053.1 200.0 1051.2 197.5 1049.4 193.8Z" fill="#b92b33" stroke="#b92b33" stroke-width=".7"/>
<path d="M1056.2 199.4 1058.8 198.1 1061.2 201.2 1064.4 206.2 1066.9 209.4 1063.8 211.9 1061.2 212.5 1059.4 208.8 1057.5 203.8Z" fill="#f89f2c" stroke="#f89f2c" stroke-width=".7"/>
<path d="M709.2 220.8 720.0 220.5 730.0 216.8 740.0 215.5 747.5 215.5 752.5 215.0 754.2 218.8 752.5 223.0 755.5 228.8 761.2 231.8 767.5 234.2 773.8 237.5 777.5 238.0 779.2 233.8 783.0 230.5 788.0 231.8 791.8 234.2 797.5 236.2 803.8 236.2 810.0 235.5 815.0 237.5 818.8 238.8 821.2 242.5 818.8 246.2 820.0 248.8 823.8 258.8 827.5 267.5 832.5 277.5 836.2 286.2 840.0 293.8 845.0 300.0 848.8 303.8 855.0 306.2 862.5 305.0 869.5 303.8 868.8 310.0 866.2 318.8 861.2 327.5 855.0 336.2 847.5 345.0 842.5 351.2 840.0 360.0 836.2 366.2 835.0 372.5 837.5 380.0 838.8 386.2 838.8 393.8 836.2 400.0 830.0 406.2 823.8 412.5 820.0 417.5 821.2 423.8 822.5 430.0 816.2 436.2 812.5 440.0 811.2 448.8 806.2 457.5 800.0 462.5 791.2 466.2 782.5 468.8 776.2 468.8 773.8 462.5 771.2 452.5 767.5 442.5 762.5 430.0 758.8 417.5 756.2 407.5 757.5 397.5 760.0 387.5 761.2 377.5 760.0 368.8 756.2 361.2 752.5 355.0 748.8 347.5 750.0 341.2 751.2 337.5 751.2 332.5 748.0 330.5 745.0 329.2 740.0 330.0 737.5 325.0 733.8 323.0 730.0 322.5 725.0 323.0 721.2 325.5 717.5 326.8 713.8 326.2 707.5 326.2 702.5 327.5 698.8 329.2 695.5 327.5 691.8 323.0 689.2 320.0 688.0 317.5 685.0 315.0 683.0 311.8 681.8 308.0 678.8 303.8 675.8 301.2 675.0 299.2 673.8 295.0 675.8 287.5 675.8 282.5 675.0 275.0 676.2 269.2 677.5 265.0 680.0 258.8 683.8 252.5 688.8 247.5 693.0 245.5 696.2 240.0 698.0 234.2 701.2 230.0 705.0 226.8Z" fill="#e22b35" stroke="#e22b35" stroke-width=".7"/>
<path d="M708.8 221.2 720.0 220.6 720.0 230.0 715.0 233.1 711.2 236.9 706.2 241.2 701.2 245.0 699.4 247.8 688.1 247.5 693.1 245.6 696.2 240.0 698.1 234.4 701.2 230.0 705.0 226.9Z" fill="#ec4f35" stroke="#ec4f35" stroke-width=".7"/>
<path d="M688.1 247.5 699.4 247.8 699.8 253.8 691.2 254.4 690.0 260.0 686.2 263.8 685.6 268.8 676.2 269.4 677.5 265.0 680.0 258.8 683.8 252.5Z" fill="#e0e1e2" stroke="#e0e1e2" stroke-width=".7"/>
<path d="M676.2 269.4 685.6 268.8 686.2 263.8 690.0 260.0 691.2 254.4 699.8 253.8 699.8 250.6 705.0 257.5 705.6 275.0 706.2 291.2 688.8 291.9 683.8 287.5 678.8 286.2 675.6 282.5 675.0 275.0Z" fill="#ec4f35" stroke="#ec4f35" stroke-width=".7"/>
<path d="M720.0 220.6 730.0 216.9 740.0 215.6 746.9 215.6 746.2 225.0 750.0 231.2 751.2 237.5 750.6 252.5 752.5 258.8 757.5 263.8 751.2 267.5 742.5 273.8 733.1 279.4 727.5 275.0 720.0 267.5 712.5 261.2 705.0 257.5 699.8 250.6 699.4 247.8 701.2 245.0 706.2 241.2 711.2 236.9 715.0 233.1 720.0 230.0Z" fill="#ec4f35" stroke="#ec4f35" stroke-width=".7"/>
<path d="M746.9 215.6 752.5 215.0 754.4 218.8 752.5 223.1 755.6 228.8 754.4 231.2 751.2 237.5 750.0 231.2 746.2 225.0Z" fill="#ec4f35" stroke="#ec4f35" stroke-width=".7"/>
<path d="M754.4 231.2 755.6 230.0 761.2 231.9 767.5 234.4 773.8 237.5 777.5 238.1 779.4 233.8 783.1 230.6 788.1 231.9 791.9 234.4 792.5 250.0 793.1 267.5 793.1 271.9 790.0 275.0 777.5 267.5 767.5 263.1 763.8 265.0 757.5 263.8 752.5 258.8 750.6 252.5 751.2 237.5Z" fill="#b92b33" stroke="#b92b33" stroke-width=".7"/>
<path d="M705.0 257.5 712.5 261.2 720.0 267.5 727.5 275.0 733.1 279.4 734.4 282.5 733.1 290.0 727.5 291.9 720.0 293.1 715.0 296.2 711.2 300.0 707.5 303.8 705.0 307.5 701.2 308.8 698.8 305.0 696.2 301.9 690.0 302.5 688.1 295.0 688.8 291.9 706.2 291.2 705.6 275.0Z" fill="#e22b35" stroke="#e22b35" stroke-width=".7"/>
<path d="M733.1 279.4 742.5 273.8 751.2 267.5 757.5 263.8 763.8 265.0 766.2 268.1 767.5 275.0 766.9 283.8 763.8 290.0 761.2 297.5 757.5 299.4 751.2 298.8 745.0 300.0 740.0 298.8 734.4 298.8 731.2 295.0 733.1 290.0 734.4 282.5Z" fill="#ec4f35" stroke="#ec4f35" stroke-width=".7"/>
<path d="M763.8 265.0 767.5 263.1 777.5 267.5 790.0 275.0 790.0 281.2 789.4 290.0 786.9 295.0 785.6 300.0 788.1 307.5 785.0 310.0 780.0 313.1 775.0 316.9 768.8 318.8 765.6 315.0 763.8 308.8 765.0 305.0 762.5 300.0 761.2 297.5 763.8 290.0 766.9 283.8 767.5 275.0 766.2 268.1Z" fill="#e22b35" stroke="#e22b35" stroke-width=".7"/>
<path d="M675.6 287.5 678.8 286.2 683.8 287.5 686.9 291.2 688.8 295.0 688.1 300.0 683.8 300.6 678.8 300.0 675.0 299.4 673.8 295.0 674.4 290.0Z" fill="#ef7530" stroke="#ef7530" stroke-width=".7"/>
<path d="M675.6 300.2 681.2 300.8 681.0 303.2 676.9 303.0Z" fill="#e22b35" stroke="#e22b35" stroke-width=".7"/>
<path d="M678.8 303.8 683.8 301.2 690.0 302.5 696.2 301.9 698.1 306.2 698.8 311.2 697.5 315.0 694.4 316.9 691.9 313.1 688.1 310.0 685.0 309.4 681.9 307.5Z" fill="#e22b35" stroke="#e22b35" stroke-width=".7"/>
<path d="M681.9 308.1 685.0 309.4 688.1 310.0 690.0 313.8 688.1 317.5 685.0 315.0 683.1 311.9Z" fill="#ec4f35" stroke="#ec4f35" stroke-width=".7"/>
<path d="M688.1 317.5 690.0 313.8 691.9 313.1 694.4 316.9 696.2 320.0 698.8 325.0 698.8 329.4 695.6 327.5 691.9 323.1 689.4 320.0Z" fill="#e22b35" stroke="#e22b35" stroke-width=".7"/>
<path d="M698.8 311.2 701.2 308.8 705.0 307.5 708.8 310.0 713.1 310.6 713.8 315.0 713.1 320.0 713.8 326.2 707.5 326.2 702.5 327.5 698.8 329.4 698.8 325.0 696.2 320.0 697.5 315.0Z" fill="#ef7530" stroke="#ef7530" stroke-width=".7"/>
<path d="M707.5 303.8 711.2 300.0 715.0 296.2 720.0 293.1 725.0 293.8 727.5 296.2 731.2 298.8 730.6 302.5 727.5 305.0 722.5 306.2 717.5 306.9 713.1 310.6 708.8 310.0 705.0 307.5Z" fill="#ef7530" stroke="#ef7530" stroke-width=".7"/>
<path d="M713.1 310.6 717.5 306.9 722.5 307.5 723.8 312.5 724.4 318.8 725.0 323.1 721.2 325.6 717.5 326.9 713.8 326.2 713.1 320.0 713.8 315.0Z" fill="#ef7530" stroke="#ef7530" stroke-width=".7"/>
<path d="M722.5 307.5 725.0 307.2 726.2 312.5 726.5 323.1 725.0 323.1 724.4 318.8 723.8 312.5Z" fill="#ec4f35" stroke="#ec4f35" stroke-width=".7"/>
<path d="M725.0 307.2 727.5 305.0 730.6 302.5 733.1 304.4 732.5 310.0 730.6 315.0 730.0 322.5 726.5 323.1 726.2 312.5Z" fill="#ef7530" stroke="#ef7530" stroke-width=".7"/>
<path d="M733.1 304.4 734.4 298.8 740.0 298.8 745.0 300.0 751.2 298.8 757.5 299.4 761.2 297.5 762.5 300.0 765.0 305.0 763.8 308.8 761.2 312.5 758.8 317.5 755.0 321.2 751.2 323.8 747.5 326.2 745.0 329.4 740.0 330.0 737.5 325.0 733.8 323.1 730.0 322.5 730.6 315.0 732.5 310.0Z" fill="#e22b35" stroke="#e22b35" stroke-width=".7"/>
<path d="M765.0 305.0 763.8 308.8 761.2 312.5 758.8 317.5 755.0 321.2 751.2 323.8 747.5 326.2 748.8 330.0 751.2 332.5" fill="none" stroke="#ffffff" stroke-opacity="0.4" stroke-width="0.4"/>
<path d="M768.8 318.8 765.6 315.0 763.8 320.0 766.2 325.0 768.8 331.2 770.0 336.2 765.0 336.9 757.5 337.5 751.2 337.5" fill="none" stroke="#ffffff" stroke-opacity="0.4" stroke-width="0.4"/>
<path d="M768.8 318.8 775.0 316.9 780.0 313.1 785.0 310.0 788.1 307.5 790.0 308.8 793.8 312.5 768.8 331.2 772.5 333.8 776.2 330.0 782.5 329.4 790.0 328.1 798.8 328.8 803.8 328.8" fill="none" stroke="#ffffff" stroke-opacity="0.4" stroke-width="0.4"/>
<path d="M751.5 339.8 760.0 340.2 759.8 343.2 751.8 343.0Z" fill="#b92b33" stroke="#b92b33" stroke-width=".7"/>
<circle cx="742.1" cy="345.6" r="1.9" fill="#b5705a"/>
<path d="M790.0 232.5 797.5 235.0 805.0 236.2 812.5 236.2 818.8 237.5 821.2 242.5 818.8 246.2 816.2 242.5 820.0 248.8 823.8 258.8 827.5 267.5 793.0 267.5 792.5 250.0 791.8 240.0Z" fill="#ec4f35" stroke="#ec4f35" stroke-width=".7"/>
<path d="M793.0 267.5 827.5 267.5 832.5 277.5 830.0 283.8 827.5 291.2 823.8 300.0 818.8 305.0 815.0 310.0 810.0 308.8 805.0 311.2 798.8 311.2 793.8 310.0 790.0 303.8 786.2 295.0 788.8 285.0 790.0 275.0 790.0 272.5 793.0 272.5Z" fill="#b92b33" stroke="#b92b33" stroke-width=".7"/>
<path d="M830.0 283.8 832.5 277.5 836.2 286.2 840.0 293.8 845.0 300.0 840.0 297.5 835.0 292.5 831.2 290.0Z" fill="#b92b33" stroke="#b92b33" stroke-width=".7"/>
<path d="M793.8 310.0 798.8 311.2 805.0 311.2 810.0 308.8 815.0 310.0 817.5 315.0 821.2 322.5 825.0 327.5 820.0 331.2 813.8 332.5 807.5 331.2 802.5 328.8 798.8 322.5 795.0 316.2Z" fill="#8e2327" stroke="#8e2327" stroke-width=".7"/>
<path d="M827.5 291.2 831.2 290.0 835.0 292.5 840.0 297.5 845.0 300.0 848.8 303.8 850.0 308.8 855.0 312.5 861.2 317.5 853.8 325.0 846.2 330.0 840.0 332.5 832.5 332.5 825.0 327.5 821.2 322.5 817.5 315.0 818.8 305.0 823.8 300.0Z" fill="#ec4f35" stroke="#ec4f35" stroke-width=".7"/>
<path d="M848.8 303.8 855.0 306.2 862.5 305.0 869.5 303.8 868.8 310.0 866.2 318.8 861.2 327.5 855.0 336.2 847.5 345.0 842.5 351.2 841.2 342.5 842.5 335.0 846.2 330.0 853.8 325.0 861.2 317.5 855.0 312.5 850.0 308.8Z" fill="#8e2327" stroke="#8e2327" stroke-width=".7"/>
<path d="M825.0 327.5 832.5 332.5 840.0 332.5 846.2 330.0 842.5 335.0 841.2 342.5 842.5 351.2 840.0 360.0 836.2 357.5 830.0 352.5 823.8 348.8 822.5 342.5 825.0 336.2 822.5 331.2Z" fill="#ec4f35" stroke="#ec4f35" stroke-width=".7"/>
<path d="M810.0 350.0 813.8 348.8 820.0 347.5 823.8 348.8 830.0 352.5 836.2 357.5 840.0 360.0 836.2 366.2 835.0 372.5 837.5 380.0 838.8 386.2 831.2 387.5 825.0 386.2 820.0 380.0 813.8 375.0 810.0 367.5 807.5 360.0 807.5 353.8Z" fill="#ef7530" stroke="#ef7530" stroke-width=".7"/>
<path d="M807.8 350.0 810.0 350.0 810.0 353.0 807.8 353.0Z" fill="#f28b28" stroke="#f28b28" stroke-width=".7"/>
<path d="M808.0 356.0 810.2 356.0 810.2 360.0 808.0 360.0Z" fill="#b92b33" stroke="#b92b33" stroke-width=".7"/>
<path d="M760.0 368.8 765.0 365.0 770.0 367.5 773.8 373.8 778.8 372.5 785.0 372.5 788.8 376.2 791.2 383.8 790.0 390.0 791.2 400.0 786.2 407.5 780.0 408.8 770.0 407.5 762.5 407.5 756.2 407.5 757.5 397.5 760.0 387.5 761.2 377.5Z" fill="#ec4f35" stroke="#ec4f35" stroke-width=".7"/>
<path d="M791.2 383.8 797.5 386.2 803.8 387.5 805.0 380.0 810.0 376.2 813.8 375.0 820.0 380.0 821.2 387.5 818.8 393.8 812.5 397.5 807.5 402.5 801.2 406.2 795.0 407.5 786.2 407.5 791.2 400.0 790.0 390.0Z" fill="#ec4f35" stroke="#ec4f35" stroke-width=".7"/>
<path d="M820.0 380.0 825.0 386.2 826.2 397.5 822.5 400.0 821.2 392.5 821.2 387.5Z" fill="#ec4f35" stroke="#ec4f35" stroke-width=".7"/>
<path d="M756.2 407.5 762.5 407.5 770.0 407.5 780.0 408.8 786.2 407.5 790.0 408.8 782.5 411.2 780.0 425.0 778.8 442.5 773.8 450.0 770.0 450.0 767.5 442.5 762.5 430.0 758.8 417.5Z" fill="#ef7530" stroke="#ef7530" stroke-width=".7"/>
<path d="M782.5 411.2 790.0 408.8 795.0 407.5 797.5 412.5 800.0 418.8 805.0 425.0 798.8 431.2 792.5 437.5 785.0 440.0 780.0 441.2 780.0 425.0Z" fill="#f28b28" stroke="#f28b28" stroke-width=".7"/>
<path d="M770.0 450.0 773.8 450.0 778.8 442.5 780.0 441.2 785.0 440.0 792.5 437.5 798.8 431.2 805.0 425.0 811.2 423.8 812.5 432.5 812.5 440.0 811.2 448.8 806.2 457.5 800.0 462.5 791.2 466.2 782.5 468.8 776.2 468.8 773.8 462.5 771.2 452.5Z" fill="#ef7530" stroke="#ef7530" stroke-width=".7"/>
<circle cx="801.8" cy="452.0" r="1.6" fill="#ec4f35"/>
<circle cx="811.8" cy="441.2" r="1.2" fill="#e22b35"/>
<path d="M865.0 391.2 867.0 397.5 865.0 407.5 861.2 418.8 856.2 430.0 852.5 437.5 847.5 436.2 845.5 428.8 847.5 418.8 851.2 410.0 855.0 403.8 860.0 397.5Z" fill="#e22b35" stroke="#e22b35" stroke-width=".7"/>
<circle cx="873.8" cy="370.5" r="1.9" fill="#c9a15a"/>
<circle cx="848.8" cy="389.5" r="1.9" fill="#8a2a30"/>
<circle cx="887.0" cy="420.0" r="1.9" fill="#b9704a"/>
<circle cx="934.5" cy="323.8" r="1.3" fill="#ec4f35"/>
<circle cx="935.0" cy="330.0" r="1.3" fill="#ec4f35"/>
<circle cx="935.0" cy="336.2" r="1.3" fill="#ec4f35"/>
<circle cx="934.8" cy="342.5" r="1.3" fill="#ec4f35"/>
<path d="M771.2 331.2 768.8 338.8 772.5 345.0 770.0 352.5 766.2 358.8 761.2 360.0 760.0 363.8 750.0 340.0 755.0 338.8 762.5 338.8 768.8 338.8" fill="none" stroke="#ffffff" stroke-opacity="0.4" stroke-width="0.45"/>
<path d="M812.5 333.8 811.2 340.0 810.0 346.2 807.5 353.8 820.0 331.2 822.5 331.2 810.0 346.2 813.8 348.8" fill="none" stroke="#ffffff" stroke-opacity="0.4" stroke-width="0.45"/>
<path d="M825.0 386.2 831.2 387.5 838.8 386.2 807.5 402.5 812.5 403.8 815.0 410.0 816.2 417.5 811.2 423.8 801.2 406.2 797.5 412.5 800.0 418.8 805.0 425.0" fill="none" stroke="#ffffff" stroke-opacity="0.4" stroke-width="0.45"/>
<path d="M1033.8 476.2 1037.5 470.0 1040.0 460.0 1038.8 450.0 1041.2 440.0 1045.0 432.5 1053.8 427.5 1062.5 423.8 1068.8 418.8 1073.8 412.5 1080.0 407.5 1086.2 402.5 1091.2 403.8 1096.2 400.0 1100.0 395.0 1106.2 393.0 1113.8 396.2 1112.5 402.5 1113.8 407.5 1120.0 412.5 1123.8 416.2 1127.5 410.0 1130.0 401.2 1132.0 392.5 1133.8 400.0 1136.2 407.5 1138.0 417.5 1141.2 426.2 1144.5 435.0 1145.5 445.0 1145.0 455.0 1142.5 463.8 1138.8 472.5 1133.8 480.0 1127.5 486.2 1121.2 491.2 1115.0 495.0 1108.8 497.5 1102.5 499.5 1096.2 498.8 1091.2 495.0 1090.0 488.8 1092.5 482.5 1088.8 480.0 1085.0 482.5 1083.8 477.5 1077.5 472.5 1070.0 470.5 1062.5 472.0 1055.0 474.5 1047.5 477.5 1040.0 480.0 1035.0 479.5Z" fill="#fcb92a" stroke="#fcb92a" stroke-width=".7"/>
<path d="M1092.5 508.8 1098.8 507.5 1101.2 510.0 1097.5 515.0 1093.8 517.5 1091.2 515.0Z" fill="#fcb92a" stroke="#fcb92a" stroke-width=".7"/>
<path d="M1178.8 495.0 1180.0 500.0 1181.2 506.2 1177.5 510.0 1172.5 513.8 1167.5 517.5 1165.0 517.5 1170.0 512.5 1175.0 507.5 1177.0 501.2Z" fill="#fcd318" stroke="#fcd318" stroke-width=".7"/>
<path d="M1160.0 517.5 1157.5 521.2 1151.2 525.0 1143.8 530.0 1136.2 535.0 1132.5 536.2 1131.2 533.8 1137.5 530.0 1145.0 525.5 1152.5 521.2 1157.5 517.5Z" fill="#fcd318" stroke="#fcd318" stroke-width=".7"/>
<path d="M1132.5 358.8 1140.0 361.2 1146.2 366.2 1150.0 372.5 1148.8 377.5 1152.5 383.8 1156.2 388.8 1151.2 387.5 1146.2 382.5 1140.0 380.0 1135.0 382.5 1131.2 381.2 1132.0 370.0Z" fill="#e22b35" stroke="#e22b35" stroke-width=".7"/>
<path d="M1117.5 357.5 1123.8 353.8 1132.5 358.8 1132.0 370.0 1131.2 381.2 1126.2 378.8 1122.5 375.0 1125.0 370.0 1120.0 366.2 1115.0 361.2 1110.0 360.0 1107.5 355.0 1105.0 351.2 1110.0 350.0 1113.8 353.8Z" fill="#ec4f35" stroke="#ec4f35" stroke-width=".7"/>
<path d="M1153.8 370.0 1160.0 368.8 1163.8 365.0 1165.0 360.0 1166.2 365.0 1163.8 370.0 1157.5 372.5Z" fill="#e22b35" stroke="#e22b35" stroke-width=".7"/>
<path d="M1171.2 367.5 1175.0 372.5 1173.8 373.8 1170.5 369.5Z" fill="#e22b35" stroke="#e22b35" stroke-width=".7"/>
<path d="M1177.5 377.5 1181.2 380.0 1185.0 382.5 1188.8 385.0 1187.5 387.0 1183.2 384.5 1178.8 380.5Z" fill="#ef7530" stroke="#ef7530" stroke-width=".7"/>
<path d="M1160.0 382.0 1163.8 383.0 1163.0 385.0 1160.0 384.0Z" fill="#e22b35" stroke="#e22b35" stroke-width=".7"/>
<path d="M1161.2 390.0 1167.5 392.0 1167.0 394.0 1161.5 392.0Z" fill="#e22b35" stroke="#e22b35" stroke-width=".7"/>
<path d="M1200.5 402.5 1202.5 406.2 1202.0 415.0 1200.5 420.0 1199.5 412.5 1199.5 406.2Z" fill="#ef7530" stroke="#ef7530" stroke-width=".7"/>
<path d="M1226.0 422.5 1229.5 421.0 1231.0 425.0 1227.5 427.0Z" fill="#f28b28" stroke="#f28b28" stroke-width=".7"/>
<path d="M1232.5 419.0 1236.0 418.5 1236.5 425.5 1234.0 427.5Z" fill="#f28b28" stroke="#f28b28" stroke-width=".7"/>
<circle cx="1224.5" cy="417.0" r="1.6" fill="#ef7530"/>
<path d="M1185.0 430.0 1188.8 435.0 1192.5 440.0 1191.2 441.2 1187.0 436.2 1184.2 432.0Z" fill="#e0e1e2" stroke="#e0e1e2" stroke-width=".7"/>
<path d="M1029.5 370.0 1035.0 370.0 1042.5 373.0 1050.0 375.0 1056.2 377.5 1055.0 380.0 1047.5 378.8 1040.0 377.0 1032.5 374.5Z" fill="#ec4f35" stroke="#ec4f35" stroke-width=".7"/>
<path d="M1058.8 378.8 1065.0 379.5 1070.0 380.0 1068.8 382.0 1060.0 381.0Z" fill="#ec4f35" stroke="#ec4f35" stroke-width=".7"/>
<path d="M1071.2 380.2 1077.5 381.0 1077.0 382.8 1071.5 382.0Z" fill="#ec4f35" stroke="#ec4f35" stroke-width=".7"/>
<path d="M1079.5 383.0 1085.0 381.2 1088.8 380.0 1089.5 382.5 1083.8 385.0 1080.0 385.0Z" fill="#ec4f35" stroke="#ec4f35" stroke-width=".7"/>
<circle cx="1087.5" cy="381.8" r="1.7" fill="#ef7530"/>
<path d="M1103.8 350.0 1112.5 352.0 1112.0 354.0 1104.5 352.0Z" fill="#ec4f35" stroke="#ec4f35" stroke-width=".7"/>
<path d="M1090.0 359.5 1096.2 358.0 1097.0 360.0 1091.0 361.0Z" fill="#ec4f35" stroke="#ec4f35" stroke-width=".7"/>
<path d="M996.2 230.0 1056.2 230.0 1056.2 240.0 1055.0 247.5 1052.5 253.8 1048.8 258.1 1045.0 260.6 1041.2 261.2 1038.1 263.8 1035.0 265.6 1031.2 265.0 1027.5 265.6 1025.0 267.5 1023.8 264.4 1021.2 261.2 1016.2 260.0 1011.2 263.1 1007.5 267.5 1005.6 266.2 1002.5 262.5 999.4 258.8 996.2 253.8 996.9 248.8 995.6 243.8 995.0 237.5Z" fill="#ef7530" stroke="#ef7530" stroke-width=".7"/>
<path d="M977.5 240.0 982.5 238.8 988.8 240.0 992.5 242.5 990.6 243.8 988.8 247.5 987.5 252.5 986.9 257.5 986.2 262.5 984.4 266.2 982.5 265.0 981.2 260.0 980.0 255.0 978.8 251.2 975.0 250.0 970.0 250.0 970.0 242.5Z" fill="#ec4f35" stroke="#ec4f35" stroke-width=".7"/>
<path d="M970.0 250.6 975.0 250.2 978.8 251.5 980.0 255.0 981.2 260.0 982.5 265.0 980.6 266.2 977.5 264.4 975.0 265.6 972.5 263.8 970.0 265.0 968.8 257.5Z" fill="#e22b35" stroke="#e22b35" stroke-width=".7"/>
<path d="M1001.2 273.1 1003.8 270.0 1006.2 268.8 1010.0 270.0 1012.5 272.5 1013.8 276.2 1016.2 280.0 1018.8 283.8 1021.2 287.5 1020.0 291.2 1017.5 293.8 1016.2 297.5 1013.8 298.1 1011.2 296.2 1009.4 298.8 1008.8 303.8 1010.0 307.5 1008.1 310.0 1007.5 312.5 1010.0 315.0 1011.9 317.5 1013.1 321.2 1014.4 323.1 1012.5 323.8 1010.0 320.0 1007.5 316.2 1006.9 311.2 1007.5 305.0 1006.9 300.0 1005.0 295.0 1003.1 290.0 1001.2 285.0 1000.0 280.0 1000.0 276.2Z" fill="#ec4f35" stroke="#ec4f35" stroke-width=".7"/>
<path d="M992.5 242.5 995.0 243.8 996.9 248.8 996.2 253.8 999.4 258.8 1002.5 262.5 1005.6 266.2 1003.8 270.0 1001.2 272.5 1000.0 276.2 1000.0 280.0 1001.9 285.0 1003.8 290.0 1005.6 295.0 1007.5 300.0 1008.1 303.8 1006.9 303.8 1005.0 298.8 1003.1 293.8 1001.2 288.8 999.4 283.8 998.1 283.8 995.6 287.5 993.1 286.2 991.9 282.5 990.6 277.5 988.8 273.8 985.0 270.0 984.4 266.2 986.2 262.5 986.9 257.5 987.5 252.5 988.8 247.5 990.6 243.8Z" fill="#b92b33" stroke="#b92b33" stroke-width=".7"/>
<path d="M1007.5 267.5 1011.2 263.8 1015.0 265.6 1018.8 268.8 1022.5 273.8 1025.0 278.8 1027.5 283.8 1028.8 288.8 1026.2 291.2 1022.5 290.0 1021.2 287.5 1018.8 283.8 1016.2 280.0 1013.8 276.2 1012.5 272.5 1010.0 270.0Z" fill="#ec4f35" stroke="#ec4f35" stroke-width=".7"/>
<path d="M1011.2 263.1 1016.2 260.0 1021.2 261.2 1023.8 264.4 1022.5 268.8 1023.8 272.5 1026.2 276.2 1030.0 281.2 1033.8 286.2 1036.2 292.5 1036.9 300.0 1035.0 303.8 1031.2 306.9 1028.1 310.0 1026.2 313.1 1025.6 310.0 1027.5 306.2 1030.0 303.8 1031.9 300.0 1032.5 295.0 1031.2 290.0 1028.8 288.8 1027.5 283.8 1025.0 278.8 1022.5 273.8 1018.8 268.8 1015.0 265.6Z" fill="#ef7530" stroke="#ef7530" stroke-width=".7"/>
<path d="M1017.5 294.4 1020.0 291.9 1023.8 292.5 1028.8 291.9 1031.2 295.0 1031.9 300.0 1030.0 303.8 1026.9 305.0 1023.8 306.2 1021.2 303.8 1018.8 300.0 1016.9 297.5Z" fill="#e22b35" stroke="#e22b35" stroke-width=".7"/>
<path d="M1014.4 323.1 1016.9 322.5 1019.4 326.2 1021.2 330.0 1023.1 335.0 1024.4 340.0 1025.0 342.5 1022.5 341.2 1019.4 337.5 1016.9 333.8 1015.0 328.8 1013.8 325.0Z" fill="#f28b28" stroke="#f28b28" stroke-width=".7"/>
<circle cx="1025.0" cy="342.2" r="1.5" fill="#c2b04e"/>
<circle cx="1048.8" cy="264.0" r="1.5" fill="#c2b04e"/>
<path d="M1031.9 271.9 1035.6 271.2 1036.9 274.4 1034.4 276.9 1031.9 275.6Z" fill="#ef7530" stroke="#ef7530" stroke-width=".7"/>
<path d="M1060.0 251.2 1062.5 250.0 1063.5 255.0 1062.5 260.0 1060.6 260.6 1059.8 256.2Z" fill="#f89f2c" stroke="#f89f2c" stroke-width=".7"/>
<path d="M1066.2 276.2 1070.0 275.6 1071.9 280.0 1070.6 285.0 1072.5 290.0 1075.0 292.5 1073.1 293.8 1070.0 291.2 1068.1 287.5 1066.2 282.5Z" fill="#ec4f35" stroke="#ec4f35" stroke-width=".7"/>
<path d="M1074.4 295.0 1077.5 293.8 1080.0 297.5 1082.5 299.4 1084.4 303.8 1083.8 308.8 1081.2 310.0 1078.8 306.2 1076.2 303.8 1075.0 300.0Z" fill="#ec4f35" stroke="#ec4f35" stroke-width=".7"/>
<path d="M1083.1 312.5 1086.9 310.6 1088.8 315.0 1088.1 319.4 1086.9 323.1 1084.4 322.5 1083.1 318.8 1080.0 316.2 1076.9 317.5 1077.5 315.0 1080.6 314.4Z" fill="#ec4f35" stroke="#ec4f35" stroke-width=".7"/>
<path d="M1062.5 313.1 1067.5 305.0 1068.1 305.6 1063.5 313.5Z" fill="#ec4f35" stroke="#ec4f35" stroke-width=".7"/>
<path d="M999.4 326.9 1003.1 327.5 1007.5 331.2 1012.5 336.9 1017.5 342.5 1022.5 348.8 1026.9 355.0 1029.4 360.0 1029.4 366.9 1026.2 367.5 1022.5 362.5 1018.1 356.2 1013.1 348.8 1008.8 341.2 1003.8 333.8 1000.6 329.4Z" fill="#ec4f35" stroke="#ec4f35" stroke-width=".7"/>
<path d="M1040.0 341.2 1045.0 343.1 1050.0 340.0 1056.2 338.8 1060.0 336.2 1063.1 332.5 1065.0 336.2 1066.2 341.2 1064.4 346.2 1062.5 351.9 1060.6 356.2 1057.5 360.0 1052.5 358.8 1047.5 357.5 1043.8 355.0 1041.2 348.8Z" fill="#ec4f35" stroke="#ec4f35" stroke-width=".7"/>
<path d="M1045.0 343.1 1046.2 338.8 1050.0 336.2 1055.0 331.2 1058.8 326.2 1061.9 321.2 1065.0 323.8 1067.5 326.2 1065.0 328.8 1063.1 332.5 1060.0 336.2 1056.2 338.8 1050.0 340.0Z" fill="#f28b28" stroke="#f28b28" stroke-width=".7"/>
<path d="M1072.5 344.4 1077.5 343.1 1082.5 342.5 1086.2 340.6 1085.6 343.1 1081.2 345.0 1076.2 345.6 1073.8 348.1 1076.2 351.9 1080.0 350.6 1077.5 353.8 1079.4 360.0 1078.8 366.2 1076.2 365.0 1075.0 358.8 1072.5 355.0 1071.9 361.2 1071.2 367.5 1069.4 367.5 1069.4 360.0 1068.8 356.2 1070.6 350.0Z" fill="#ec4f35" stroke="#ec4f35" stroke-width=".7"/>
<path d="M1094.4 338.8 1096.2 337.5 1095.6 345.0 1094.4 346.2Z" fill="#ec4f35" stroke="#ec4f35" stroke-width=".7"/>
<path d="M621.1 65.8 628.1 61.9 637.5 57.2 650.0 53.3 662.5 51.7 673.4 50.2 684.4 49.4 693.8 49.7 703.1 50.9 706.2 54.1 712.5 55.6 719.5 56.4 714.1 59.5 707.8 61.9 704.7 65.8 702.3 71.2 701.6 77.5 696.9 82.2 693.8 86.9 690.6 91.6 687.5 94.7 681.2 97.0 675.0 99.4 668.8 101.7 662.5 104.1 656.2 107.2 650.0 111.9 645.3 116.6 640.6 121.2 636.7 126.7 633.6 129.1 629.7 127.5 626.6 124.4 625.0 118.1 624.7 111.9 625.8 105.6 628.1 99.4 630.5 93.1 633.6 86.9 636.7 82.2 638.3 77.5 637.5 72.8 634.4 70.5 628.1 68.9 623.4 68.1ZM754.7 63.4 759.4 62.7 764.1 64.2 768.8 63.4 771.9 65.8 768.8 67.3 765.6 69.7 763.3 72.8 760.9 70.5 757.8 67.3ZM769.1 61.6 778.9 62.2 778.1 63.8 770.3 63.4ZM477.5 80.0 485.0 82.0 495.0 83.8 505.0 85.0 512.5 87.5 516.2 91.2 525.0 93.8 535.0 93.0 542.5 96.2 550.0 95.5 553.8 98.8 557.5 102.5 560.0 105.5 557.5 108.8 552.5 111.2 546.2 112.5 540.0 114.5 533.8 117.5 527.5 121.2 523.8 126.2 525.0 131.2 530.0 135.0 535.0 138.8 538.8 142.5 537.5 150.0 536.2 155.0 540.0 156.2 543.8 150.0 546.2 145.0 552.5 141.2 557.5 136.2 560.0 130.0 563.8 122.5 567.5 118.8 572.5 118.0 577.5 121.2 580.0 126.2 583.8 128.8 588.8 127.5 590.0 132.5 591.2 138.8 595.0 145.0 596.2 151.2 593.8 155.0 588.8 158.8 583.8 162.5 577.5 165.0 571.2 167.5 565.0 168.8 560.0 172.5 556.2 176.2 557.5 178.0 563.8 175.0 568.8 173.8 573.8 172.5 576.2 176.2 571.2 179.5 565.0 182.0 560.0 184.5 557.5 181.2 555.0 178.0 550.0 180.0 545.0 180.5 535.0 183.8 525.0 187.5 515.0 190.0 516.2 187.5 518.8 180.0 516.2 172.5 510.0 167.5 500.0 163.8 485.0 161.2 460.0 158.8 432.5 157.0 431.2 150.0 433.0 142.5 435.0 135.0 437.5 125.0 440.0 115.0 441.2 108.8ZM583.8 167.5 588.8 162.5 593.8 160.0 596.2 165.0 595.0 172.5 590.0 175.0 585.0 172.5ZM514.4 76.2 518.8 73.1 525.0 70.6 531.2 69.4 535.6 71.2 533.8 74.4 537.5 76.2 542.5 77.5 547.5 76.2 545.0 80.0 543.8 85.0 541.2 88.8 536.2 90.0 531.2 88.8 526.2 89.4 521.2 88.1 518.1 85.0 521.2 82.5 518.8 79.4 515.0 78.1ZM555.0 77.5 560.0 75.6 565.0 74.4 566.2 77.5 563.8 82.5 561.2 87.5 560.0 92.5 557.5 96.2 555.0 93.8 556.2 88.8 557.5 83.8 555.0 81.2ZM552.5 98.8 555.0 95.0 558.1 96.9 560.0 95.0 562.5 96.9 560.0 101.2 556.2 103.8 553.8 102.5ZM537.5 63.8 542.5 62.5 548.8 63.1 552.5 65.0 557.5 66.9 558.8 69.4 553.8 70.0 548.8 69.4 543.8 70.0 540.0 66.9ZM565.0 66.9 568.8 65.6 572.5 66.9 575.0 70.0 571.2 71.2 567.5 70.0ZM578.8 69.4 585.0 68.8 592.5 70.6 598.8 72.5 596.2 75.0 590.0 74.4 583.8 73.8 580.0 71.9ZM590.0 56.2 595.0 53.8 602.5 51.9 610.0 50.6 620.0 49.4 630.0 48.8 640.0 49.0 647.5 50.6 643.8 52.5 636.2 55.0 628.8 57.5 621.2 60.6 615.0 63.1 610.0 66.2 605.0 69.4 600.0 68.8 596.2 66.9 592.5 64.4 593.8 61.2 591.2 58.8ZM575.0 58.1 578.8 58.8 582.5 61.9 585.0 63.8 581.2 63.8 577.5 61.2ZM571.2 85.0 575.0 81.2 580.0 78.8 586.2 78.1 592.5 78.8 597.5 80.0 600.0 85.0 602.5 90.0 605.0 95.0 607.5 101.2 607.5 105.0 603.8 107.5 600.0 109.4 598.8 106.2 596.2 105.0 595.0 110.0 593.8 115.0 590.0 120.0 586.2 117.5 583.1 113.8 582.5 110.0 585.0 106.2 588.8 103.8 590.0 100.0 588.8 96.2 586.2 92.5 582.5 90.0 577.5 89.4 573.8 88.1ZM571.2 110.0 576.2 108.1 580.0 108.8 577.5 111.5 573.8 112.0ZM563.8 92.5 567.5 90.0 571.2 91.2 570.0 96.2 566.2 98.8 563.8 96.2ZM432.5 157.0 460.0 158.8 485.0 161.2 500.0 163.8 510.0 167.5 516.2 172.5 518.8 180.0 516.2 187.5 515.0 190.0 525.0 187.5 535.0 183.8 545.0 180.5 550.0 180.0 555.0 178.0 557.5 181.2 560.0 184.5 555.0 187.5 550.0 190.0 546.2 193.8 543.8 198.0 535.0 202.5 527.5 206.2 523.8 212.5 520.0 216.2 513.8 222.5 507.5 226.2 502.5 231.2 501.2 237.5 502.5 243.8 501.2 250.0 498.8 247.5 497.0 240.0 496.2 233.8 490.0 232.5 483.8 233.8 477.5 233.0 471.2 232.5 465.0 233.8 460.0 237.5 456.2 241.2 453.8 246.2 451.2 240.0 447.5 235.0 443.8 232.5 438.8 232.0 435.0 226.2 427.5 225.0 420.0 223.8 411.2 218.8 410.0 218.0 407.5 212.5 406.2 205.0 407.5 197.5 410.0 190.0 413.8 182.5 418.8 175.0 425.0 167.5 430.0 161.2ZM477.5 80.0 470.0 73.8 463.8 72.0 455.0 73.0 445.0 75.0 437.5 77.5 435.0 81.2 428.8 83.0 421.2 84.5 418.8 87.5 422.5 89.5 413.8 93.0 405.0 95.5 400.0 98.8 397.5 102.5 402.5 105.5 407.5 108.0 403.8 111.2 395.0 114.5 385.0 117.5 375.0 120.0 371.2 121.0 377.5 120.0 390.0 116.0 402.5 113.0 410.0 110.5 418.8 107.0 425.5 105.0 430.0 106.0 435.0 108.5 438.8 111.0 441.2 108.8ZM416.2 220.0 418.8 225.0 432.5 224.4 436.2 225.0 437.5 230.0 442.5 233.8 446.9 233.1 448.1 238.8 450.0 243.8 451.2 248.1 449.4 253.8 448.1 260.0 448.1 266.2 449.4 271.2 452.5 275.0 456.2 277.5 460.6 276.9 463.8 274.4 466.2 270.0 468.8 266.9 472.5 265.6 476.9 266.2 475.0 270.0 473.1 275.0 471.2 277.5 468.1 277.5 462.5 277.5 458.8 281.2 455.6 286.2 453.8 281.2 450.0 283.1 446.9 285.0 443.1 283.8 438.8 281.2 433.8 278.1 429.4 274.4 425.6 271.2 425.0 267.5 426.2 263.8 425.6 258.8 423.1 252.5 421.9 246.2 420.6 240.0 418.8 232.5ZM410.6 218.8 412.5 219.4 415.0 220.6 413.1 225.0 412.5 231.2 413.1 237.5 413.8 243.8 415.6 250.0 416.2 255.0 415.0 255.6 413.1 251.2 411.9 246.2 411.2 241.2 409.4 238.8 408.8 236.9 410.6 235.6 410.6 230.0 410.0 223.8ZM455.6 286.2 458.8 281.2 462.5 277.5 468.1 277.5 467.5 282.5 469.4 285.0 466.2 287.5 463.8 291.2 460.0 290.6 457.5 288.8ZM468.8 277.5 471.2 276.9 471.5 282.5 469.4 284.4 468.1 281.2ZM469.4 285.6 473.8 286.2 478.8 286.9 481.9 289.4 480.0 291.2 476.2 292.5 473.8 295.0 471.2 296.2 470.0 293.1 466.2 291.9 465.0 290.0 466.9 287.5ZM460.0 291.0 463.8 291.9 467.5 293.1 468.8 295.0 465.0 294.4 461.9 293.1ZM471.2 296.9 474.4 295.0 476.9 293.1 481.2 290.6 482.5 295.0 481.2 300.0 480.0 304.4 476.2 304.4 473.8 302.5 471.9 300.0ZM474.4 305.0 478.1 305.0 480.6 307.5 481.9 311.2 480.0 312.5 476.9 310.0 475.0 307.5ZM481.9 311.9 485.0 313.1 487.5 315.0 490.0 312.5 493.1 311.2 496.2 312.5 496.9 315.6 495.6 316.9 493.8 314.4 491.2 314.4 488.8 317.5 486.2 316.9 483.8 315.0ZM485.6 262.5 488.8 260.6 493.1 260.0 497.5 261.9 501.2 264.4 505.0 267.5 508.8 270.0 511.2 271.2 507.5 271.9 503.8 270.6 500.0 268.1 496.2 265.6 492.5 263.1 488.8 262.5ZM515.6 273.8 518.8 273.1 519.4 275.0 518.8 278.1 515.6 278.1 516.2 276.2ZM519.0 273.5 523.1 274.4 526.9 276.9 523.8 278.8 519.4 278.5ZM500.0 278.1 503.8 277.8 504.4 279.0 500.6 279.4ZM505.0 246.9 508.1 245.6 510.0 250.0 508.8 253.8 506.2 251.2ZM510.0 255.0 513.1 256.9 514.4 261.2 512.5 262.5 510.6 258.8ZM515.0 265.0 517.5 265.6 516.9 268.1 515.0 267.5ZM496.2 313.8 500.0 308.8 506.2 305.0 512.5 303.8 516.2 301.2 520.0 305.0 525.0 305.5 535.0 307.5 542.5 309.5 546.2 313.8 550.0 317.5 556.2 323.8 562.5 326.2 570.0 327.5 573.8 332.5 575.0 340.0 572.5 346.2 577.5 348.8 582.5 350.0 592.5 355.0 602.5 358.8 612.5 362.5 618.8 367.5 620.5 375.0 618.8 382.5 613.8 390.0 610.0 397.5 610.0 407.5 608.8 417.5 606.2 426.2 600.0 430.0 592.5 435.0 588.0 440.0 588.8 448.8 585.0 455.0 581.2 462.5 580.0 470.0 575.0 474.5 570.0 473.8 572.5 480.0 574.5 486.2 570.0 490.0 563.8 491.2 562.5 496.2 557.5 498.8 560.0 507.5 558.8 515.0 563.8 522.5 563.0 530.0 561.2 537.5 565.0 541.2 572.5 545.0 577.0 547.0 570.0 547.5 560.0 542.5 553.8 536.2 547.5 527.5 543.8 517.5 538.8 505.0 535.0 492.5 532.5 480.0 530.0 465.0 528.0 450.0 525.5 435.0 523.8 420.0 522.5 412.5 515.0 407.5 507.5 400.0 501.2 390.0 495.0 380.0 488.8 370.0 486.2 363.8 488.8 357.5 487.5 351.2 491.2 345.0 493.8 337.5 496.2 327.5 497.0 320.0ZM511.9 308.8 515.0 305.6 518.8 304.4 523.8 306.2 530.0 308.1 535.0 307.5 540.0 309.4 545.6 313.1 547.5 316.2 545.6 320.0 543.8 325.0 545.0 328.8 541.2 330.6 536.2 332.5 534.4 337.5 532.5 341.9 528.8 343.1 526.9 337.5 526.2 332.5 525.0 327.5 520.0 323.8 515.0 320.0 512.5 316.2 513.1 312.5ZM545.6 320.0 548.1 317.5 550.6 320.6 553.1 325.0 555.0 330.0 554.4 335.0 556.2 338.8 553.1 340.0 550.0 338.8 548.1 333.8 546.9 328.8 545.0 328.8 543.8 325.0ZM563.0 327.5 568.8 326.2 572.0 332.5 569.5 337.5 565.0 337.5ZM523.8 388.8 532.5 383.8 535.0 388.8 545.0 395.0 551.2 400.0 552.5 407.5 557.5 412.5 556.2 417.5 550.0 418.8 546.2 422.5 545.0 427.0 538.8 427.5 535.0 428.8 530.0 425.0 527.0 417.5 524.5 410.0 522.5 400.0ZM546.2 422.5 550.0 418.8 556.2 418.0 560.0 425.0 567.5 430.0 571.2 437.5 570.0 445.0 563.8 446.2 561.2 440.0 555.0 435.0 548.8 431.2 545.5 427.0ZM523.8 412.5 527.0 417.5 530.0 425.0 532.5 430.0 533.0 440.0 532.5 452.5 535.0 465.0 536.2 477.5 538.8 490.0 542.5 502.5 546.2 515.0 550.0 527.5 557.5 537.5 565.0 542.5 575.0 547.0 567.5 547.5 557.5 543.0 551.2 536.2 546.2 527.5 542.0 516.2 538.0 503.8 534.5 491.2 532.0 478.8 529.5 463.8 527.5 448.8 525.5 435.0 523.8 420.0ZM566.2 457.5 572.5 458.0 578.8 462.5 581.2 466.2 579.5 471.2 574.5 474.5 569.5 472.5 566.2 466.2ZM685.0 111.9 688.8 110.6 693.8 111.2 698.8 110.0 702.5 112.5 701.2 115.6 696.2 118.1 691.2 119.8 686.9 118.1 685.0 115.0ZM741.9 127.5 742.5 132.5 745.0 136.9 750.0 138.8 755.0 138.1 756.2 141.2 758.1 146.2 761.2 148.1 765.0 145.6 767.5 141.2 769.4 136.9 770.0 133.1 768.1 130.0 768.1 126.2 770.0 123.1 773.1 120.0 775.6 116.2 778.8 113.1 782.5 112.8 783.8 115.0 781.9 118.8 778.8 122.5 777.5 126.9 779.4 130.6 783.8 131.9 790.0 130.6 794.4 128.1 796.9 123.8 795.6 119.4 793.1 115.0 792.5 110.0 791.2 105.0 790.0 101.2 790.6 97.5 787.5 95.0 782.5 94.4 777.5 95.6 772.5 98.1 767.5 101.9 763.1 106.2 760.0 111.2 756.9 116.2 752.5 120.0 747.5 123.1 743.8 125.0ZM748.8 145.6 751.2 143.8 753.1 145.0 753.1 149.4 751.9 152.5 749.4 153.1 748.1 150.0ZM754.8 148.5 757.2 148.1 757.5 151.0 755.2 151.2ZM717.5 140.0 720.0 138.1 723.1 139.4 723.8 142.5 722.5 146.2 725.0 149.4 727.5 153.8 730.0 158.1 731.2 160.0 729.4 162.5 726.2 163.8 722.5 165.0 718.8 166.2 716.2 166.2 717.5 163.8 720.0 161.2 718.1 160.0 720.0 156.2 718.8 152.5 720.0 149.4 717.5 146.2 716.9 143.1ZM705.0 155.0 708.1 151.9 711.9 150.6 713.8 152.5 713.1 156.9 711.2 160.0 707.5 161.9 704.4 161.2 705.0 158.1ZM716.2 174.4 720.0 173.1 723.8 171.9 726.9 170.0 730.0 167.5 733.8 165.6 736.9 166.2 740.0 167.5 742.5 170.0 745.0 171.9 743.8 175.0 742.5 178.8 743.8 181.9 745.0 185.0 744.4 188.8 742.5 190.6 738.8 191.2 735.0 191.9 732.5 195.0 728.8 194.4 725.0 193.1 723.1 191.2 723.8 186.2 723.1 181.2 720.6 178.1 717.5 176.2ZM748.1 195.0 749.8 194.4 749.8 198.1 748.5 198.1ZM702.5 193.1 707.5 191.9 713.8 192.5 720.0 193.1 725.0 193.5 729.4 194.8 732.5 195.6 730.0 198.8 726.9 201.9 725.0 206.2 723.8 210.6 720.0 214.4 715.0 215.6 711.2 216.9 708.8 215.6 706.9 212.5 703.8 213.1 701.2 211.9 701.9 206.2 702.5 200.0ZM736.9 166.2 738.8 163.1 741.9 161.2 742.5 165.0 743.1 168.8 742.5 170.0 740.0 167.5ZM736.9 166.2 740.0 167.5 742.5 170.0 740.6 170.6 738.1 169.0ZM741.9 161.2 745.0 158.1 748.1 155.6 751.2 154.4 753.8 155.0 757.5 154.4 761.2 155.6 763.1 160.0 763.5 165.0 762.5 167.5 760.0 169.4 761.2 172.5 760.0 176.2 757.5 178.8 753.8 179.4 750.6 180.0 747.5 181.2 746.2 178.8 745.6 175.0 744.4 171.9 742.5 170.0 743.1 168.8 742.5 165.0ZM742.5 178.8 746.2 176.9 750.6 177.5 751.2 180.0 748.1 182.5 744.4 181.9ZM751.2 178.8 757.5 177.5 762.5 176.9 766.2 178.1 766.9 181.2 762.5 183.1 757.5 183.8 753.8 182.5 751.2 181.2ZM744.4 185.0 748.1 183.1 752.5 181.9 756.2 182.5 760.0 183.8 759.4 186.2 756.9 187.5 757.5 191.2 760.0 195.0 763.1 198.1 767.5 200.6 770.6 203.1 769.4 205.0 767.5 206.2 768.8 210.0 766.9 211.9 766.2 208.8 765.0 205.0 761.2 201.9 757.5 198.8 754.4 195.0 752.5 191.2 750.0 188.1 746.2 188.8ZM758.8 211.2 763.8 210.6 766.2 212.5 763.1 215.0 760.0 213.8ZM747.5 200.0 750.0 199.4 750.2 206.2 748.1 207.5ZM763.1 155.0 767.5 153.1 775.0 152.5 781.2 153.1 783.8 155.0 784.4 160.0 785.0 165.0 783.8 168.8 780.0 170.0 775.0 169.4 770.0 168.8 766.2 167.5 763.8 165.0 763.1 160.0ZM759.4 169.4 762.5 167.5 767.5 168.1 772.5 170.0 771.2 173.1 767.5 174.4 763.1 173.8 760.6 172.5ZM771.2 173.1 775.0 171.9 781.2 172.5 782.5 175.0 777.5 176.2 772.5 176.2ZM768.1 178.8 772.5 176.5 778.8 176.2 781.9 176.9 780.0 181.2 775.0 183.1 770.0 182.5 767.5 181.2ZM760.0 183.8 766.2 181.9 768.1 183.1 766.2 185.6 762.5 186.2 760.6 186.0ZM766.2 185.6 768.1 183.1 772.5 184.0 773.8 186.2 767.5 186.2 766.2 188.8 768.8 192.5 771.2 195.6 767.5 193.1 764.4 190.0 763.1 187.2ZM767.5 186.2 773.8 186.2 775.0 190.0 773.1 194.4 770.0 192.5 767.5 189.4ZM773.8 184.4 778.8 183.1 781.9 187.5 783.1 191.9 780.0 195.0 776.9 193.8 775.0 190.0ZM773.1 194.4 776.9 193.8 780.0 195.6 781.2 198.8 778.8 200.6 776.9 203.1 775.6 200.0 773.8 196.9ZM781.9 176.9 786.2 175.0 792.5 174.4 796.9 176.2 799.4 180.0 800.6 183.8 798.1 187.5 796.9 190.6 791.2 191.2 786.2 190.6 783.1 188.8 781.2 185.0 780.0 181.2ZM796.9 176.2 799.4 177.5 801.9 181.2 800.6 183.8 799.4 180.0ZM783.8 191.9 788.8 191.2 796.9 191.2 797.5 195.0 795.6 198.8 790.0 200.0 785.6 199.4 783.8 196.2ZM778.8 200.6 783.8 200.0 790.0 200.2 792.5 201.2 788.8 203.1 785.6 203.8 786.2 207.5 784.4 210.0 785.6 213.1 783.8 215.0 781.9 211.2 780.0 207.5 778.1 204.4ZM786.2 217.5 790.0 217.8 789.8 218.8 786.5 218.5ZM783.8 136.2 788.8 135.0 792.5 136.2 791.9 140.0 787.5 141.2 783.8 140.0ZM780.0 142.5 783.8 140.6 791.9 140.2 793.1 144.4 788.8 146.2 783.1 145.6 779.4 145.0ZM778.8 146.2 783.1 145.6 788.8 146.5 790.6 150.0 787.5 153.1 783.8 153.8 780.0 151.9 778.1 149.4ZM775.6 151.2 780.0 151.9 780.0 153.1 776.0 152.9ZM787.5 153.8 791.2 150.0 793.8 146.9 798.8 147.5 803.1 151.2 805.0 155.6 803.1 158.1 803.8 161.2 800.0 162.5 795.0 161.9 790.0 161.2 785.6 161.9 784.4 157.5ZM785.0 165.0 785.6 161.9 790.0 161.2 795.0 161.9 800.0 162.5 803.8 161.2 808.8 160.0 812.5 163.8 817.5 166.2 823.8 168.1 825.6 172.5 823.8 176.2 818.8 178.8 814.4 180.0 811.2 178.8 808.8 180.6 805.0 180.0 801.9 181.2 800.0 178.8 796.9 176.2 792.5 174.4 786.2 175.0 783.8 173.1 783.1 170.0 783.8 168.8ZM810.0 183.8 814.4 182.5 816.9 184.4 813.8 186.9 811.2 186.2ZM795.6 203.8 800.0 201.2 805.0 199.4 811.2 198.1 817.5 198.8 823.8 200.0 830.0 200.6 836.2 199.4 842.5 198.8 847.5 200.6 848.8 205.0 847.5 211.2 842.5 213.1 835.0 214.4 830.0 215.6 823.8 215.0 820.6 216.2 815.0 214.4 810.0 216.2 805.0 215.0 800.0 212.5 796.9 208.8ZM793.1 199.4 797.5 198.8 798.1 201.2 794.4 201.9ZM806.2 220.0 810.0 219.0 810.6 220.6 806.9 221.2ZM790.5 101.2 792.5 99.2 798.8 100.0 805.0 101.8 810.5 104.2 814.2 107.5 813.0 110.0 809.2 111.2 805.0 110.5 803.0 112.5 805.0 115.5 808.8 118.0 811.2 117.5 812.5 115.0 815.5 112.5 817.5 110.5 821.2 108.8 822.5 106.2 820.5 103.0 823.0 102.5 825.0 105.5 827.5 106.8 830.0 103.8 833.8 101.8 838.8 101.2 843.8 100.0 847.5 99.2 850.0 97.5 853.8 96.8 857.5 97.5 861.2 98.8 865.0 100.0 868.0 102.5 870.5 105.5 873.0 107.5 875.5 106.8 876.8 103.0 875.0 100.0 872.5 97.5 870.0 95.0 867.5 92.5 864.2 90.0 861.8 91.2 860.0 88.8 861.2 85.5 865.0 85.0 867.5 87.5 870.5 91.2 873.8 94.2 876.8 97.5 880.0 100.0 883.8 101.2 887.5 101.8 884.2 98.0 880.0 95.0 876.8 91.8 873.8 88.8 877.5 87.5 882.5 88.8 887.5 91.2 890.5 91.8 888.8 88.0 885.0 85.5 880.0 83.0 883.8 81.2 888.8 79.2 886.8 76.8 890.0 74.2 895.0 73.0 900.0 71.8 905.0 68.8 906.2 66.2 910.0 66.8 915.0 68.8 920.0 68.0 925.0 70.0 927.5 72.5 925.5 76.2 923.8 79.2 927.5 78.0 932.5 76.8 937.5 78.0 945.0 76.2 955.0 75.0 962.5 77.5 967.5 81.2 973.8 82.5 980.0 80.0 985.0 76.2 992.5 75.0 1000.0 76.2 1010.0 78.8 1020.0 80.0 1030.0 78.8 1040.0 77.5 1050.0 77.5 1060.0 78.8 1070.0 81.2 1080.0 82.5 1088.8 85.0 1086.2 88.8 1080.0 90.0 1083.8 93.8 1086.2 97.5 1083.8 100.0 1082.5 105.0 1080.0 107.5 1075.0 110.0 1072.5 112.5 1075.0 115.0 1078.8 118.8 1082.5 121.2 1086.2 125.0 1088.8 130.0 1089.2 135.0 1091.2 140.0 1092.5 144.2 1090.0 142.5 1086.2 138.8 1081.2 133.8 1076.2 128.8 1072.5 125.0 1070.0 117.5 1068.8 111.2 1067.5 106.2 1063.8 102.5 1060.0 105.5 1057.5 107.5 1053.8 106.2 1055.0 112.5 1057.5 116.2 1051.2 116.8 1045.0 117.5 1038.8 118.8 1035.5 121.2 1036.2 127.5 1035.0 135.0 1038.8 136.2 1042.5 138.8 1046.2 140.0 1051.2 143.8 1056.2 150.0 1060.0 155.0 1062.5 160.0 1063.8 165.0 1064.2 171.2 1063.8 177.5 1061.2 180.0 1058.0 178.0 1056.2 175.0 1055.0 180.0 1053.8 175.0 1052.5 167.5 1050.0 162.5 1045.0 163.8 1040.0 161.2 1035.0 157.5 1030.0 153.8 1023.8 150.0 1017.5 146.2 1011.2 145.0 1008.8 150.0 1010.0 156.2 1006.2 160.0 1000.0 158.8 992.5 157.5 985.0 158.8 977.5 160.0 970.0 157.5 963.8 155.0 960.0 158.8 955.0 161.2 947.5 162.5 943.8 165.0 940.0 167.5 935.0 165.0 930.0 161.2 923.8 160.0 917.5 156.2 911.2 153.8 906.2 150.0 900.0 150.0 893.8 148.8 887.5 147.5 881.2 150.0 875.0 152.5 872.5 157.5 873.8 162.5 867.5 163.8 860.0 162.5 852.5 162.5 846.2 163.8 842.5 167.5 843.8 173.8 847.5 178.8 846.2 183.8 843.8 187.5 840.0 191.2 835.0 192.5 831.2 190.0 827.5 187.5 825.0 182.5 822.5 178.8 825.0 175.0 823.8 170.0 820.0 167.5 815.0 165.0 810.0 162.5 806.2 160.0 805.0 156.2 801.2 153.8 800.0 148.8 796.2 146.2 793.8 141.2 792.5 136.2 793.8 131.2 796.2 126.2 797.5 120.0 795.0 113.8 792.5 107.5ZM851.2 71.5 848.0 72.5 842.5 74.2 837.5 76.8 833.8 80.5 831.8 85.5 830.5 90.0 832.5 91.2 835.5 90.5 838.8 92.5 836.2 88.8 835.5 84.2 837.5 80.5 841.2 77.5 846.2 75.0 850.5 73.0ZM878.8 55.5 887.5 57.0 897.5 61.2 902.5 63.8 897.5 64.5 887.5 61.2 880.0 58.8ZM963.8 65.0 975.0 66.0 986.2 67.0 980.0 68.8 970.0 68.0ZM810.0 58.5 817.5 57.5 825.0 58.0 835.5 57.5 830.0 59.5 820.0 60.0 812.5 60.0ZM1045.0 70.5 1050.0 71.0 1049.5 72.5 1045.5 72.0ZM842.5 167.5 846.2 163.8 852.5 162.5 860.0 162.5 867.5 163.8 873.8 162.5 872.5 157.5 875.0 152.5 881.2 150.0 887.5 147.5 893.8 148.8 900.0 150.0 906.2 150.0 911.2 153.8 917.5 156.2 923.8 160.0 930.0 161.2 935.0 165.0 940.0 167.5 938.8 171.2 936.2 176.2 932.5 180.0 930.0 186.2 930.0 193.0 928.8 191.8 922.5 191.2 915.0 191.8 910.0 193.0 907.5 196.2 902.5 197.5 898.8 196.2 895.0 192.5 890.0 190.0 885.0 190.5 880.0 188.8 875.0 184.2 870.0 183.0 868.0 184.2 867.5 190.0 868.0 196.2 863.0 195.5 858.8 191.2 856.2 188.0 857.5 185.0 860.0 182.5 859.2 178.8 855.0 177.5 850.0 178.8 847.5 178.8 843.8 173.8ZM943.8 165.0 947.5 162.5 955.0 161.2 960.0 158.8 963.8 155.0 970.0 157.5 977.5 160.0 985.0 158.8 992.5 157.5 1000.0 158.8 1006.2 160.0 1010.0 156.2 1013.8 158.8 1017.5 162.5 1015.0 167.5 1010.0 170.0 1006.2 175.0 1002.5 180.0 997.5 185.0 992.5 188.8 982.5 189.5 972.5 187.5 965.0 183.8 957.5 180.0 952.5 175.0 947.5 170.0ZM940.0 167.5 943.8 165.0 947.5 170.0 952.5 175.0 957.5 180.0 965.0 183.8 972.5 187.5 982.5 189.5 992.5 188.8 997.5 185.0 1002.5 180.0 1006.2 175.0 1010.0 170.0 1015.0 167.5 1017.5 162.5 1013.8 158.8 1010.0 156.2 1008.8 150.0 1011.2 145.0 1017.5 146.2 1023.8 150.0 1030.0 153.8 1035.0 157.5 1040.0 161.2 1045.0 163.8 1050.0 162.5 1052.5 167.5 1053.8 175.0 1055.0 178.8 1051.2 183.8 1047.5 187.5 1045.0 191.2 1040.0 192.5 1035.0 196.2 1032.5 201.2 1038.8 202.5 1042.5 200.0 1043.8 205.0 1040.0 210.0 1042.5 215.0 1047.5 220.0 1052.5 226.2 1056.2 233.8 1056.2 241.2 1053.8 248.8 1050.0 255.0 1045.0 260.0 1038.8 262.5 1032.5 265.0 1027.5 263.8 1022.5 261.2 1017.5 260.0 1012.5 261.2 1007.5 263.8 1003.8 260.0 1000.0 252.5 997.5 246.2 993.8 242.5 990.0 240.0 985.0 238.8 980.0 240.0 978.0 243.0 970.0 243.0 969.2 247.5 965.0 246.2 957.5 243.8 950.0 240.0 945.0 236.2 942.5 232.5 938.8 227.5 936.2 222.5 932.5 220.0 930.5 217.5 928.8 213.8 925.0 210.0 921.2 208.0 921.2 206.2 920.0 202.5 918.8 198.8 922.5 197.5 926.2 195.0 930.0 193.0 930.0 186.2 932.5 180.0 936.2 176.2 938.8 171.2ZM868.1 185.0 870.0 183.1 875.0 184.4 880.0 188.8 885.0 190.6 890.0 190.0 895.0 192.5 898.8 196.2 902.5 197.5 907.5 196.2 910.0 193.1 907.5 196.9 906.2 200.0 903.8 201.2 901.2 203.8 903.1 206.2 902.5 209.4 900.0 210.0 895.0 208.1 890.0 205.0 885.0 201.2 881.2 197.5 877.5 195.0 873.8 195.6 871.2 197.5 868.1 196.2 867.5 190.0ZM866.9 203.8 868.1 197.5 871.2 197.5 873.8 195.6 877.5 195.0 881.2 197.5 885.0 201.2 890.0 205.0 895.0 208.1 900.0 210.0 899.4 212.5 896.2 213.1 895.6 215.6 892.5 217.5 889.4 218.8 888.1 215.0 885.0 212.5 881.2 210.6 876.2 209.4 872.5 210.0 868.1 211.2 867.5 210.0ZM910.0 193.1 915.0 191.9 922.5 191.2 928.8 191.9 930.0 193.1 926.2 195.0 922.5 197.5 918.8 198.1 915.0 200.0 910.0 200.0 906.2 200.0 907.5 196.9ZM903.8 203.1 907.5 201.9 910.0 200.6 915.0 200.6 918.8 198.8 920.0 202.5 921.2 206.2 918.8 208.1 915.0 206.9 911.2 207.5 907.5 209.4 905.0 208.1 904.4 205.6ZM889.4 218.8 892.5 217.5 895.6 215.6 896.2 213.1 900.0 212.5 903.1 210.6 907.5 210.0 911.2 208.1 915.0 207.5 918.8 208.8 921.2 207.5 916.2 211.2 915.0 215.0 916.2 218.8 913.8 222.5 912.5 226.2 911.9 230.0 907.5 232.5 906.2 236.2 901.2 238.8 895.0 239.4 891.9 237.5 892.5 233.8 890.0 230.0 888.8 225.0 889.4 221.2ZM853.1 201.2 850.0 202.5 846.2 203.8 843.8 207.5 846.2 212.5 847.5 218.8 850.0 223.8 853.8 230.0 855.6 235.0 857.5 238.1 861.2 241.2 863.8 246.2 868.8 250.0 875.0 249.4 878.8 251.2 882.5 253.1 887.5 253.8 895.0 254.4 896.2 250.0 898.1 247.5 895.0 243.8 892.5 240.0 891.9 237.5 892.5 233.8 890.0 230.0 888.8 225.0 889.4 221.2 889.4 218.8 888.1 215.0 885.0 212.5 881.2 210.6 876.2 209.4 872.5 210.0 868.1 211.2 868.1 213.8 863.8 215.0 858.8 213.8 855.6 210.0 853.8 205.0ZM895.0 239.4 901.2 238.8 906.2 236.2 907.5 232.5 911.9 230.0 912.5 226.2 913.8 222.5 916.2 218.8 915.0 215.0 916.2 211.2 921.2 208.1 925.0 210.0 928.8 213.8 930.6 217.5 927.5 218.8 925.0 220.0 923.8 223.8 926.2 227.5 927.5 231.2 926.2 235.0 923.8 240.0 921.2 243.1 917.5 246.2 918.8 250.0 918.8 255.0 915.0 259.4 912.5 257.5 910.0 255.0 906.2 254.4 901.2 255.0 895.0 254.4 896.2 250.0 898.1 247.5 895.0 243.8 892.5 240.0ZM930.6 217.5 932.5 220.0 936.2 222.5 938.8 227.5 942.5 232.5 945.0 236.2 950.0 240.0 957.5 243.8 965.0 246.2 969.4 247.5 970.0 243.1 978.1 243.1 981.2 242.5 982.5 247.5 985.0 245.0 986.2 247.5 983.8 252.5 980.0 253.1 976.2 255.0 973.8 258.8 971.9 263.8 970.0 260.0 968.8 255.0 968.8 260.0 969.4 266.2 966.9 272.5 961.2 278.8 956.2 285.0 952.5 291.2 951.2 297.5 950.6 303.8 949.4 311.9 947.5 313.1 945.0 310.0 940.0 297.5 936.2 287.5 932.5 277.5 930.0 270.0 927.5 265.0 925.0 268.8 921.2 270.0 918.8 266.2 920.0 262.5 916.2 260.0 915.0 259.4 918.8 255.0 918.8 250.0 917.5 246.2 921.2 243.1 923.8 240.0 926.2 235.0 927.5 231.2 926.2 227.5 923.8 223.8 925.0 220.0 927.5 218.8ZM970.0 243.1 973.8 241.9 978.1 243.1 977.8 246.9 973.8 247.5 970.0 246.9ZM968.8 252.5 972.5 251.2 976.2 255.0 977.5 260.0 976.9 263.8 974.4 263.1 971.9 263.8 970.0 260.0 968.8 255.0ZM832.5 192.5 838.8 193.1 843.8 195.6 846.9 197.5 843.8 198.8 840.0 198.8 836.2 196.9ZM840.6 199.4 843.8 199.0 846.9 202.5 844.4 203.8 841.9 202.5ZM843.8 198.8 846.9 197.5 851.2 198.8 853.1 201.2 850.0 203.1 846.9 202.5ZM821.9 216.2 827.5 215.0 832.5 214.4 835.6 215.0 835.0 220.0 833.8 223.8 830.0 225.6 826.2 228.1 823.1 230.0 821.2 228.1 821.9 222.5ZM835.6 215.0 840.0 212.5 843.8 213.8 846.2 218.8 848.8 223.8 853.1 230.0 855.0 235.0 853.8 238.8 850.6 240.0 847.5 240.0 842.5 236.2 837.5 232.5 832.5 229.4 830.6 226.2 833.8 223.8 835.0 220.0ZM820.2 226.9 821.8 226.9 821.5 230.0 820.2 230.0ZM819.8 230.0 821.5 230.0 821.2 235.0 820.2 240.0 819.2 236.2ZM821.2 231.2 826.2 228.8 830.6 226.9 832.5 229.4 830.0 232.5 827.5 235.0 825.0 237.5 821.9 236.9ZM821.9 237.5 825.0 237.5 827.5 235.0 830.0 232.5 832.5 229.4 837.5 232.5 842.5 236.2 847.5 240.0 850.6 240.0 853.8 240.0 856.2 243.1 858.8 247.5 861.2 251.2 863.8 255.0 865.6 258.8 869.4 260.0 873.8 261.2 878.1 261.9 878.8 266.2 877.5 271.2 873.8 273.8 868.8 276.2 862.5 280.0 857.5 284.4 851.2 285.0 846.2 285.6 843.8 281.9 838.8 276.2 835.0 270.0 832.5 262.5 828.8 255.0 825.0 247.5 822.5 242.5ZM853.8 238.8 856.2 239.4 856.9 242.5 855.0 241.9ZM863.1 251.9 865.0 251.2 865.6 255.6 863.8 256.2ZM869.4 260.0 873.8 259.4 877.5 256.9 879.4 255.0 880.6 258.8 878.8 261.9 873.8 261.2ZM879.4 255.0 881.2 257.5 885.0 260.0 889.4 263.8 891.2 266.9 888.1 271.2 885.6 276.2 882.5 280.0 878.8 283.1 875.0 285.0 873.1 283.8 871.9 280.0 873.8 273.8 877.5 271.2 878.8 266.2 878.1 261.9 880.6 258.8ZM846.2 285.6 851.2 285.0 857.5 284.4 862.5 280.0 868.8 279.4 871.9 280.6 873.1 285.0 870.0 288.8 863.8 292.5 857.5 296.2 851.2 299.4 848.1 300.6 846.9 295.0 845.6 290.0ZM954.5 313.8 958.0 315.0 958.8 321.2 956.2 323.8 953.8 320.0ZM1053.1 138.8 1056.2 141.2 1060.0 146.2 1065.0 151.2 1068.8 155.0 1072.5 161.2 1075.0 165.0 1073.1 165.0 1070.0 160.0 1066.2 155.0 1061.9 150.0 1057.5 145.0 1054.4 141.2ZM1076.9 170.6 1080.0 171.9 1083.8 173.8 1088.1 175.0 1089.4 176.9 1086.9 178.8 1085.0 181.2 1081.9 181.9 1080.0 180.0 1080.6 176.9 1078.8 173.8ZM1083.8 186.2 1086.9 187.5 1089.4 190.6 1091.2 195.0 1092.5 200.0 1095.0 205.0 1095.0 208.1 1091.9 210.0 1088.8 211.2 1086.2 213.8 1082.5 213.1 1078.8 213.8 1076.2 215.6 1073.8 217.5 1075.0 220.6 1076.9 223.8 1075.0 223.1 1073.1 220.0 1072.5 216.9 1075.0 213.1 1077.5 210.0 1081.2 208.8 1083.8 206.2 1085.6 202.5 1086.2 197.5 1085.0 192.5 1083.8 188.8ZM1048.1 190.0 1051.2 187.5 1053.8 183.8 1055.6 182.5 1056.2 187.5 1055.6 191.2 1057.5 196.2 1056.2 198.8 1053.1 200.0 1051.2 197.5 1049.4 193.8ZM1056.2 199.4 1058.8 198.1 1061.2 201.2 1064.4 206.2 1066.9 209.4 1063.8 211.9 1061.2 212.5 1059.4 208.8 1057.5 203.8ZM709.2 220.8 720.0 220.5 730.0 216.8 740.0 215.5 747.5 215.5 752.5 215.0 754.2 218.8 752.5 223.0 755.5 228.8 761.2 231.8 767.5 234.2 773.8 237.5 777.5 238.0 779.2 233.8 783.0 230.5 788.0 231.8 791.8 234.2 797.5 236.2 803.8 236.2 810.0 235.5 815.0 237.5 818.8 238.8 821.2 242.5 818.8 246.2 820.0 248.8 823.8 258.8 827.5 267.5 832.5 277.5 836.2 286.2 840.0 293.8 845.0 300.0 848.8 303.8 855.0 306.2 862.5 305.0 869.5 303.8 868.8 310.0 866.2 318.8 861.2 327.5 855.0 336.2 847.5 345.0 842.5 351.2 840.0 360.0 836.2 366.2 835.0 372.5 837.5 380.0 838.8 386.2 838.8 393.8 836.2 400.0 830.0 406.2 823.8 412.5 820.0 417.5 821.2 423.8 822.5 430.0 816.2 436.2 812.5 440.0 811.2 448.8 806.2 457.5 800.0 462.5 791.2 466.2 782.5 468.8 776.2 468.8 773.8 462.5 771.2 452.5 767.5 442.5 762.5 430.0 758.8 417.5 756.2 407.5 757.5 397.5 760.0 387.5 761.2 377.5 760.0 368.8 756.2 361.2 752.5 355.0 748.8 347.5 750.0 341.2 751.2 337.5 751.2 332.5 748.0 330.5 745.0 329.2 740.0 330.0 737.5 325.0 733.8 323.0 730.0 322.5 725.0 323.0 721.2 325.5 717.5 326.8 713.8 326.2 707.5 326.2 702.5 327.5 698.8 329.2 695.5 327.5 691.8 323.0 689.2 320.0 688.0 317.5 685.0 315.0 683.0 311.8 681.8 308.0 678.8 303.8 675.8 301.2 675.0 299.2 673.8 295.0 675.8 287.5 675.8 282.5 675.0 275.0 676.2 269.2 677.5 265.0 680.0 258.8 683.8 252.5 688.8 247.5 693.0 245.5 696.2 240.0 698.0 234.2 701.2 230.0 705.0 226.8ZM708.8 221.2 720.0 220.6 720.0 230.0 715.0 233.1 711.2 236.9 706.2 241.2 701.2 245.0 699.4 247.8 688.1 247.5 693.1 245.6 696.2 240.0 698.1 234.4 701.2 230.0 705.0 226.9ZM688.1 247.5 699.4 247.8 699.8 253.8 691.2 254.4 690.0 260.0 686.2 263.8 685.6 268.8 676.2 269.4 677.5 265.0 680.0 258.8 683.8 252.5ZM676.2 269.4 685.6 268.8 686.2 263.8 690.0 260.0 691.2 254.4 699.8 253.8 699.8 250.6 705.0 257.5 705.6 275.0 706.2 291.2 688.8 291.9 683.8 287.5 678.8 286.2 675.6 282.5 675.0 275.0ZM720.0 220.6 730.0 216.9 740.0 215.6 746.9 215.6 746.2 225.0 750.0 231.2 751.2 237.5 750.6 252.5 752.5 258.8 757.5 263.8 751.2 267.5 742.5 273.8 733.1 279.4 727.5 275.0 720.0 267.5 712.5 261.2 705.0 257.5 699.8 250.6 699.4 247.8 701.2 245.0 706.2 241.2 711.2 236.9 715.0 233.1 720.0 230.0ZM746.9 215.6 752.5 215.0 754.4 218.8 752.5 223.1 755.6 228.8 754.4 231.2 751.2 237.5 750.0 231.2 746.2 225.0ZM754.4 231.2 755.6 230.0 761.2 231.9 767.5 234.4 773.8 237.5 777.5 238.1 779.4 233.8 783.1 230.6 788.1 231.9 791.9 234.4 792.5 250.0 793.1 267.5 793.1 271.9 790.0 275.0 777.5 267.5 767.5 263.1 763.8 265.0 757.5 263.8 752.5 258.8 750.6 252.5 751.2 237.5ZM705.0 257.5 712.5 261.2 720.0 267.5 727.5 275.0 733.1 279.4 734.4 282.5 733.1 290.0 727.5 291.9 720.0 293.1 715.0 296.2 711.2 300.0 707.5 303.8 705.0 307.5 701.2 308.8 698.8 305.0 696.2 301.9 690.0 302.5 688.1 295.0 688.8 291.9 706.2 291.2 705.6 275.0ZM733.1 279.4 742.5 273.8 751.2 267.5 757.5 263.8 763.8 265.0 766.2 268.1 767.5 275.0 766.9 283.8 763.8 290.0 761.2 297.5 757.5 299.4 751.2 298.8 745.0 300.0 740.0 298.8 734.4 298.8 731.2 295.0 733.1 290.0 734.4 282.5ZM763.8 265.0 767.5 263.1 777.5 267.5 790.0 275.0 790.0 281.2 789.4 290.0 786.9 295.0 785.6 300.0 788.1 307.5 785.0 310.0 780.0 313.1 775.0 316.9 768.8 318.8 765.6 315.0 763.8 308.8 765.0 305.0 762.5 300.0 761.2 297.5 763.8 290.0 766.9 283.8 767.5 275.0 766.2 268.1ZM675.6 287.5 678.8 286.2 683.8 287.5 686.9 291.2 688.8 295.0 688.1 300.0 683.8 300.6 678.8 300.0 675.0 299.4 673.8 295.0 674.4 290.0ZM675.6 300.2 681.2 300.8 681.0 303.2 676.9 303.0ZM678.8 303.8 683.8 301.2 690.0 302.5 696.2 301.9 698.1 306.2 698.8 311.2 697.5 315.0 694.4 316.9 691.9 313.1 688.1 310.0 685.0 309.4 681.9 307.5ZM681.9 308.1 685.0 309.4 688.1 310.0 690.0 313.8 688.1 317.5 685.0 315.0 683.1 311.9ZM688.1 317.5 690.0 313.8 691.9 313.1 694.4 316.9 696.2 320.0 698.8 325.0 698.8 329.4 695.6 327.5 691.9 323.1 689.4 320.0ZM698.8 311.2 701.2 308.8 705.0 307.5 708.8 310.0 713.1 310.6 713.8 315.0 713.1 320.0 713.8 326.2 707.5 326.2 702.5 327.5 698.8 329.4 698.8 325.0 696.2 320.0 697.5 315.0ZM707.5 303.8 711.2 300.0 715.0 296.2 720.0 293.1 725.0 293.8 727.5 296.2 731.2 298.8 730.6 302.5 727.5 305.0 722.5 306.2 717.5 306.9 713.1 310.6 708.8 310.0 705.0 307.5ZM713.1 310.6 717.5 306.9 722.5 307.5 723.8 312.5 724.4 318.8 725.0 323.1 721.2 325.6 717.5 326.9 713.8 326.2 713.1 320.0 713.8 315.0ZM722.5 307.5 725.0 307.2 726.2 312.5 726.5 323.1 725.0 323.1 724.4 318.8 723.8 312.5ZM725.0 307.2 727.5 305.0 730.6 302.5 733.1 304.4 732.5 310.0 730.6 315.0 730.0 322.5 726.5 323.1 726.2 312.5ZM733.1 304.4 734.4 298.8 740.0 298.8 745.0 300.0 751.2 298.8 757.5 299.4 761.2 297.5 762.5 300.0 765.0 305.0 763.8 308.8 761.2 312.5 758.8 317.5 755.0 321.2 751.2 323.8 747.5 326.2 745.0 329.4 740.0 330.0 737.5 325.0 733.8 323.1 730.0 322.5 730.6 315.0 732.5 310.0ZM751.5 339.8 760.0 340.2 759.8 343.2 751.8 343.0ZM790.0 232.5 797.5 235.0 805.0 236.2 812.5 236.2 818.8 237.5 821.2 242.5 818.8 246.2 816.2 242.5 820.0 248.8 823.8 258.8 827.5 267.5 793.0 267.5 792.5 250.0 791.8 240.0ZM793.0 267.5 827.5 267.5 832.5 277.5 830.0 283.8 827.5 291.2 823.8 300.0 818.8 305.0 815.0 310.0 810.0 308.8 805.0 311.2 798.8 311.2 793.8 310.0 790.0 303.8 786.2 295.0 788.8 285.0 790.0 275.0 790.0 272.5 793.0 272.5ZM830.0 283.8 832.5 277.5 836.2 286.2 840.0 293.8 845.0 300.0 840.0 297.5 835.0 292.5 831.2 290.0ZM793.8 310.0 798.8 311.2 805.0 311.2 810.0 308.8 815.0 310.0 817.5 315.0 821.2 322.5 825.0 327.5 820.0 331.2 813.8 332.5 807.5 331.2 802.5 328.8 798.8 322.5 795.0 316.2ZM827.5 291.2 831.2 290.0 835.0 292.5 840.0 297.5 845.0 300.0 848.8 303.8 850.0 308.8 855.0 312.5 861.2 317.5 853.8 325.0 846.2 330.0 840.0 332.5 832.5 332.5 825.0 327.5 821.2 322.5 817.5 315.0 818.8 305.0 823.8 300.0ZM848.8 303.8 855.0 306.2 862.5 305.0 869.5 303.8 868.8 310.0 866.2 318.8 861.2 327.5 855.0 336.2 847.5 345.0 842.5 351.2 841.2 342.5 842.5 335.0 846.2 330.0 853.8 325.0 861.2 317.5 855.0 312.5 850.0 308.8ZM825.0 327.5 832.5 332.5 840.0 332.5 846.2 330.0 842.5 335.0 841.2 342.5 842.5 351.2 840.0 360.0 836.2 357.5 830.0 352.5 823.8 348.8 822.5 342.5 825.0 336.2 822.5 331.2ZM810.0 350.0 813.8 348.8 820.0 347.5 823.8 348.8 830.0 352.5 836.2 357.5 840.0 360.0 836.2 366.2 835.0 372.5 837.5 380.0 838.8 386.2 831.2 387.5 825.0 386.2 820.0 380.0 813.8 375.0 810.0 367.5 807.5 360.0 807.5 353.8ZM807.8 350.0 810.0 350.0 810.0 353.0 807.8 353.0ZM808.0 356.0 810.2 356.0 810.2 360.0 808.0 360.0ZM760.0 368.8 765.0 365.0 770.0 367.5 773.8 373.8 778.8 372.5 785.0 372.5 788.8 376.2 791.2 383.8 790.0 390.0 791.2 400.0 786.2 407.5 780.0 408.8 770.0 407.5 762.5 407.5 756.2 407.5 757.5 397.5 760.0 387.5 761.2 377.5ZM791.2 383.8 797.5 386.2 803.8 387.5 805.0 380.0 810.0 376.2 813.8 375.0 820.0 380.0 821.2 387.5 818.8 393.8 812.5 397.5 807.5 402.5 801.2 406.2 795.0 407.5 786.2 407.5 791.2 400.0 790.0 390.0ZM820.0 380.0 825.0 386.2 826.2 397.5 822.5 400.0 821.2 392.5 821.2 387.5ZM756.2 407.5 762.5 407.5 770.0 407.5 780.0 408.8 786.2 407.5 790.0 408.8 782.5 411.2 780.0 425.0 778.8 442.5 773.8 450.0 770.0 450.0 767.5 442.5 762.5 430.0 758.8 417.5ZM782.5 411.2 790.0 408.8 795.0 407.5 797.5 412.5 800.0 418.8 805.0 425.0 798.8 431.2 792.5 437.5 785.0 440.0 780.0 441.2 780.0 425.0ZM770.0 450.0 773.8 450.0 778.8 442.5 780.0 441.2 785.0 440.0 792.5 437.5 798.8 431.2 805.0 425.0 811.2 423.8 812.5 432.5 812.5 440.0 811.2 448.8 806.2 457.5 800.0 462.5 791.2 466.2 782.5 468.8 776.2 468.8 773.8 462.5 771.2 452.5ZM865.0 391.2 867.0 397.5 865.0 407.5 861.2 418.8 856.2 430.0 852.5 437.5 847.5 436.2 845.5 428.8 847.5 418.8 851.2 410.0 855.0 403.8 860.0 397.5ZM1033.8 476.2 1037.5 470.0 1040.0 460.0 1038.8 450.0 1041.2 440.0 1045.0 432.5 1053.8 427.5 1062.5 423.8 1068.8 418.8 1073.8 412.5 1080.0 407.5 1086.2 402.5 1091.2 403.8 1096.2 400.0 1100.0 395.0 1106.2 393.0 1113.8 396.2 1112.5 402.5 1113.8 407.5 1120.0 412.5 1123.8 416.2 1127.5 410.0 1130.0 401.2 1132.0 392.5 1133.8 400.0 1136.2 407.5 1138.0 417.5 1141.2 426.2 1144.5 435.0 1145.5 445.0 1145.0 455.0 1142.5 463.8 1138.8 472.5 1133.8 480.0 1127.5 486.2 1121.2 491.2 1115.0 495.0 1108.8 497.5 1102.5 499.5 1096.2 498.8 1091.2 495.0 1090.0 488.8 1092.5 482.5 1088.8 480.0 1085.0 482.5 1083.8 477.5 1077.5 472.5 1070.0 470.5 1062.5 472.0 1055.0 474.5 1047.5 477.5 1040.0 480.0 1035.0 479.5ZM1092.5 508.8 1098.8 507.5 1101.2 510.0 1097.5 515.0 1093.8 517.5 1091.2 515.0ZM1178.8 495.0 1180.0 500.0 1181.2 506.2 1177.5 510.0 1172.5 513.8 1167.5 517.5 1165.0 517.5 1170.0 512.5 1175.0 507.5 1177.0 501.2ZM1160.0 517.5 1157.5 521.2 1151.2 525.0 1143.8 530.0 1136.2 535.0 1132.5 536.2 1131.2 533.8 1137.5 530.0 1145.0 525.5 1152.5 521.2 1157.5 517.5ZM1132.5 358.8 1140.0 361.2 1146.2 366.2 1150.0 372.5 1148.8 377.5 1152.5 383.8 1156.2 388.8 1151.2 387.5 1146.2 382.5 1140.0 380.0 1135.0 382.5 1131.2 381.2 1132.0 370.0ZM1117.5 357.5 1123.8 353.8 1132.5 358.8 1132.0 370.0 1131.2 381.2 1126.2 378.8 1122.5 375.0 1125.0 370.0 1120.0 366.2 1115.0 361.2 1110.0 360.0 1107.5 355.0 1105.0 351.2 1110.0 350.0 1113.8 353.8ZM1153.8 370.0 1160.0 368.8 1163.8 365.0 1165.0 360.0 1166.2 365.0 1163.8 370.0 1157.5 372.5ZM1171.2 367.5 1175.0 372.5 1173.8 373.8 1170.5 369.5ZM1177.5 377.5 1181.2 380.0 1185.0 382.5 1188.8 385.0 1187.5 387.0 1183.2 384.5 1178.8 380.5ZM1160.0 382.0 1163.8 383.0 1163.0 385.0 1160.0 384.0ZM1161.2 390.0 1167.5 392.0 1167.0 394.0 1161.5 392.0ZM1200.5 402.5 1202.5 406.2 1202.0 415.0 1200.5 420.0 1199.5 412.5 1199.5 406.2ZM1226.0 422.5 1229.5 421.0 1231.0 425.0 1227.5 427.0ZM1232.5 419.0 1236.0 418.5 1236.5 425.5 1234.0 427.5ZM1185.0 430.0 1188.8 435.0 1192.5 440.0 1191.2 441.2 1187.0 436.2 1184.2 432.0ZM1029.5 370.0 1035.0 370.0 1042.5 373.0 1050.0 375.0 1056.2 377.5 1055.0 380.0 1047.5 378.8 1040.0 377.0 1032.5 374.5ZM1058.8 378.8 1065.0 379.5 1070.0 380.0 1068.8 382.0 1060.0 381.0ZM1071.2 380.2 1077.5 381.0 1077.0 382.8 1071.5 382.0ZM1079.5 383.0 1085.0 381.2 1088.8 380.0 1089.5 382.5 1083.8 385.0 1080.0 385.0ZM1103.8 350.0 1112.5 352.0 1112.0 354.0 1104.5 352.0ZM1090.0 359.5 1096.2 358.0 1097.0 360.0 1091.0 361.0ZM977.5 240.0 982.5 238.8 988.8 240.0 992.5 242.5 990.6 243.8 988.8 247.5 987.5 252.5 986.9 257.5 986.2 262.5 984.4 266.2 982.5 265.0 981.2 260.0 980.0 255.0 978.8 251.2 975.0 250.0 970.0 250.0 970.0 242.5ZM970.0 250.6 975.0 250.2 978.8 251.5 980.0 255.0 981.2 260.0 982.5 265.0 980.6 266.2 977.5 264.4 975.0 265.6 972.5 263.8 970.0 265.0 968.8 257.5ZM1001.2 273.1 1003.8 270.0 1006.2 268.8 1010.0 270.0 1012.5 272.5 1013.8 276.2 1016.2 280.0 1018.8 283.8 1021.2 287.5 1020.0 291.2 1017.5 293.8 1016.2 297.5 1013.8 298.1 1011.2 296.2 1009.4 298.8 1008.8 303.8 1010.0 307.5 1008.1 310.0 1007.5 312.5 1010.0 315.0 1011.9 317.5 1013.1 321.2 1014.4 323.1 1012.5 323.8 1010.0 320.0 1007.5 316.2 1006.9 311.2 1007.5 305.0 1006.9 300.0 1005.0 295.0 1003.1 290.0 1001.2 285.0 1000.0 280.0 1000.0 276.2ZM992.5 242.5 995.0 243.8 996.9 248.8 996.2 253.8 999.4 258.8 1002.5 262.5 1005.6 266.2 1003.8 270.0 1001.2 272.5 1000.0 276.2 1000.0 280.0 1001.9 285.0 1003.8 290.0 1005.6 295.0 1007.5 300.0 1008.1 303.8 1006.9 303.8 1005.0 298.8 1003.1 293.8 1001.2 288.8 999.4 283.8 998.1 283.8 995.6 287.5 993.1 286.2 991.9 282.5 990.6 277.5 988.8 273.8 985.0 270.0 984.4 266.2 986.2 262.5 986.9 257.5 987.5 252.5 988.8 247.5 990.6 243.8ZM1007.5 267.5 1011.2 263.8 1015.0 265.6 1018.8 268.8 1022.5 273.8 1025.0 278.8 1027.5 283.8 1028.8 288.8 1026.2 291.2 1022.5 290.0 1021.2 287.5 1018.8 283.8 1016.2 280.0 1013.8 276.2 1012.5 272.5 1010.0 270.0ZM1011.2 263.1 1016.2 260.0 1021.2 261.2 1023.8 264.4 1022.5 268.8 1023.8 272.5 1026.2 276.2 1030.0 281.2 1033.8 286.2 1036.2 292.5 1036.9 300.0 1035.0 303.8 1031.2 306.9 1028.1 310.0 1026.2 313.1 1025.6 310.0 1027.5 306.2 1030.0 303.8 1031.9 300.0 1032.5 295.0 1031.2 290.0 1028.8 288.8 1027.5 283.8 1025.0 278.8 1022.5 273.8 1018.8 268.8 1015.0 265.6ZM1017.5 294.4 1020.0 291.9 1023.8 292.5 1028.8 291.9 1031.2 295.0 1031.9 300.0 1030.0 303.8 1026.9 305.0 1023.8 306.2 1021.2 303.8 1018.8 300.0 1016.9 297.5ZM1014.4 323.1 1016.9 322.5 1019.4 326.2 1021.2 330.0 1023.1 335.0 1024.4 340.0 1025.0 342.5 1022.5 341.2 1019.4 337.5 1016.9 333.8 1015.0 328.8 1013.8 325.0ZM1031.9 271.9 1035.6 271.2 1036.9 274.4 1034.4 276.9 1031.9 275.6ZM1060.0 251.2 1062.5 250.0 1063.5 255.0 1062.5 260.0 1060.6 260.6 1059.8 256.2ZM1066.2 276.2 1070.0 275.6 1071.9 280.0 1070.6 285.0 1072.5 290.0 1075.0 292.5 1073.1 293.8 1070.0 291.2 1068.1 287.5 1066.2 282.5ZM1074.4 295.0 1077.5 293.8 1080.0 297.5 1082.5 299.4 1084.4 303.8 1083.8 308.8 1081.2 310.0 1078.8 306.2 1076.2 303.8 1075.0 300.0ZM1083.1 312.5 1086.9 310.6 1088.8 315.0 1088.1 319.4 1086.9 323.1 1084.4 322.5 1083.1 318.8 1080.0 316.2 1076.9 317.5 1077.5 315.0 1080.6 314.4ZM1062.5 313.1 1067.5 305.0 1068.1 305.6 1063.5 313.5ZM999.4 326.9 1003.1 327.5 1007.5 331.2 1012.5 336.9 1017.5 342.5 1022.5 348.8 1026.9 355.0 1029.4 360.0 1029.4 366.9 1026.2 367.5 1022.5 362.5 1018.1 356.2 1013.1 348.8 1008.8 341.2 1003.8 333.8 1000.6 329.4ZM1040.0 341.2 1045.0 343.1 1050.0 340.0 1056.2 338.8 1060.0 336.2 1063.1 332.5 1065.0 336.2 1066.2 341.2 1064.4 346.2 1062.5 351.9 1060.6 356.2 1057.5 360.0 1052.5 358.8 1047.5 357.5 1043.8 355.0 1041.2 348.8ZM1045.0 343.1 1046.2 338.8 1050.0 336.2 1055.0 331.2 1058.8 326.2 1061.9 321.2 1065.0 323.8 1067.5 326.2 1065.0 328.8 1063.1 332.5 1060.0 336.2 1056.2 338.8 1050.0 340.0ZM1072.5 344.4 1077.5 343.1 1082.5 342.5 1086.2 340.6 1085.6 343.1 1081.2 345.0 1076.2 345.6 1073.8 348.1 1076.2 351.9 1080.0 350.6 1077.5 353.8 1079.4 360.0 1078.8 366.2 1076.2 365.0 1075.0 358.8 1072.5 355.0 1071.9 361.2 1071.2 367.5 1069.4 367.5 1069.4 360.0 1068.8 356.2 1070.6 350.0ZM1094.4 338.8 1096.2 337.5 1095.6 345.0 1094.4 346.2Z" fill="none" stroke="#fff" stroke-opacity=".38" stroke-width=".45"/>
</g>
</svg>
<!-- logo -->
<svg class="t" style="left:40px;top:86px" width="60" height="60" viewBox="0 0 1215 1215">
<circle cx="605" cy="605" r="505" fill="#3a8fd0"/>
<path d="M660 135C560 200 470 330 425 500C600 545 850 505 1000 345C960 265 905 205 860 185L800 142C750 130 700 128 660 135Z" fill="#fff"/>
<path d="M782 96L836 84L912 160L862 196Z" fill="#fff"/>
<path d="M615 735C800 722 950 640 1065 470C1100 600 1082 760 1005 880C925 985 800 1042 700 1052C660 950 630 850 615 735Z" fill="#fff"/>
<path d="M400 705L452 730C442 830 462 930 502 1012L470 1002C420 900 400 800 400 705Z" fill="#dff1fb"/>
<path d="M225 372C260 290 320 222 400 182C340 252 292 332 262 412Z" fill="#cfeafa"/>
<path d="M155 530C150 650 180 780 242 882C212 770 202 650 217 560Z" fill="#cfeafa"/>
<circle cx="570" cy="385" r="82" fill="#3a8fd0"/>
</svg>
<div class="t" id="lg1" style="transform:scaleX(0.9525);left:100.7px;top:91.2px;font-size:26.3px;color:#3a90cb;letter-spacing:.6px;-webkit-text-stroke:.65px #3a90cb">TRANSPARENCY</div>
<div class="t" id="lg2" style="transform:scaleX(0.9341);left:109.6px;top:114.6px;font-size:26.3px;color:#3a90cb;letter-spacing:.6px;-webkit-text-stroke:.65px #3a90cb">INTERNATIONAL</div>
<div class="t" id="lg3" style="transform:scaleX(0.9974);left:104px;top:140.4px;font-size:12.6px;color:#6c9fc6">the global coalition against corruption</div>
<!-- title -->
<div class="t cond thick" id="t1" style="transform:scaleX(0.4837);left:40.5px;top:206.5px;font-size:52.3px;color:#0d0d0d">INDICE DE</div>
<div class="t cond thick" id="t2" style="transform:scaleX(0.4748);left:40.5px;top:257.5px;font-size:52.3px;color:#0d0d0d">PERCEPTION DE LA</div>
<div class="t cond thick" id="t3" style="transform:scaleX(0.4854);left:40.5px;top:308.5px;font-size:52.3px;color:#0d0d0d">CORRUPTION</div>
<div class="t cond thick" id="t4" style="transform:scaleX(0.5657);left:242px;top:308.5px;font-size:52.3px;color:#dc1f63">2025</div>
<div style="position:absolute;left:0;top:390px;width:318px;height:5.5px;background:#0d0d0d"></div>
<div class="t cond" id="st1" style="transform:scaleX(0.8686);left:45px;top:432.5px;font-size:17.5px;color:#1a1a1a">Perception des niveaux de corruption</div>
<div class="t cond" id="st2" style="transform:scaleX(0.854);left:45px;top:455.2px;font-size:17.5px;color:#1a1a1a">au sein du secteur public dans 182</div>
<div class="t cond" id="st3" style="transform:scaleX(0.8882);left:45px;top:478.7px;font-size:17.5px;color:#1a1a1a">pays/territoires à travers le monde</div>
<div class="t cond thick2" id="th" style="transform:scaleX(0.5673);left:45px;top:565.3px;font-size:12.6px;color:#1a1a1a">SCORE&nbsp;&nbsp;PAYS/TERRITOIRE</div>

<div id="table">
<div class="r" style="left:45.0px;top:583.40px;height:15.0px"><b class="s d" style="background:#fcd116">89</b><span class="n">Danemark</span></div>
<div class="r" style="left:45.0px;top:599.57px;height:15.0px"><b class="s d" style="background:#fcd116">88</b><span class="n">Finlande</span></div>
<div class="r" style="left:45.0px;top:615.74px;height:15.0px"><b class="s d" style="background:#fcd116">84</b><span class="n">Singapour</span></div>
<div class="r" style="left:45.0px;top:631.91px;height:15.0px"><b class="s d" style="background:#fcd116">81</b><span class="n">Nouvelle-Zélande</span></div>
<div class="r" style="left:45.0px;top:648.08px;height:15.0px"><b class="s d" style="background:#fcd116">81</b><span class="n">Norvège</span></div>
<div class="r" style="left:45.0px;top:664.25px;height:15.0px"><b class="s d" style="background:#fcd116">80</b><span class="n">Suède</span></div>
<div class="r" style="left:45.0px;top:680.42px;height:15.0px"><b class="s d" style="background:#fcd116">80</b><span class="n">Suisse</span></div>
<div class="r" style="left:45.0px;top:696.59px;height:15.0px"><b class="s" style="background:#fab72c">78</b><span class="n">Luxembourg</span></div>
<div class="r" style="left:45.0px;top:712.76px;height:15.0px"><b class="s" style="background:#fab72c">78</b><span class="n">Pays-Bas</span></div>
<div class="r" style="left:45.0px;top:728.93px;height:15.0px"><b class="s" style="background:#fab72c">77</b><span class="n">Allemagne</span></div>
<div class="r" style="left:45.0px;top:745.10px;height:15.0px"><b class="s" style="background:#fab72c">77</b><span class="n">Islande</span></div>
<div class="r" style="left:45.0px;top:761.27px;height:15.0px"><b class="s" style="background:#fab72c">76</b><span class="n">Australie</span></div>
<div class="r" style="left:45.0px;top:777.44px;height:15.0px"><b class="s" style="background:#fab72c">76</b><span class="n">Estonie</span></div>
<div class="r" style="left:45.0px;top:793.61px;height:15.0px"><b class="s" style="background:#fab72c">76</b><span class="n">Hong Kong</span></div>
<div class="r" style="left:45.0px;top:809.78px;height:15.0px"><b class="s" style="background:#fab72c">76</b><span class="n">Irlande</span></div>
<div class="r" style="left:45.0px;top:825.95px;height:15.0px"><b class="s" style="background:#fab72c">75</b><span class="n">Canada</span></div>
<div class="r" style="left:45.0px;top:842.12px;height:15.0px"><b class="s" style="background:#fab72c">73</b><span class="n">Uruguay</span></div>
<div class="r" style="left:45.0px;top:858.29px;height:15.0px"><b class="s" style="background:#fab72c">71</b><span class="n">Bhoutan</span></div>
<div class="r" style="left:45.0px;top:874.46px;height:15.0px"><b class="s" style="background:#fab72c">71</b><span class="n">Japon</span></div>
<div class="r" style="left:45.0px;top:890.63px;height:15.0px"><b class="s" style="background:#fab72c">70</b><span class="n">Royaume-Uni</span></div>
<div class="r" style="left:45.0px;top:906.80px;height:15.0px"><b class="s" style="background:#f6a02a">69</b><span class="n">Autriche</span></div>
<div class="r" style="left:45.0px;top:922.97px;height:15.0px"><b class="s" style="background:#f6a02a">69</b><span class="n">Belgique</span></div>
<div class="r" style="left:45.0px;top:939.14px;height:15.0px"><b class="s" style="background:#f6a02a">69</b><span class="n">Émirats arabes unis</span></div>
<div class="r" style="left:45.0px;top:955.31px;height:15.0px"><b class="s" style="background:#f6a02a">68</b><span class="n">Barbade</span></div>
<div class="r" style="left:45.0px;top:971.48px;height:15.0px"><b class="s" style="background:#f6a02a">68</b><span class="n">Seychelles</span></div>
<div class="r" style="left:45.0px;top:987.65px;height:15.0px"><b class="s" style="background:#f6a02a">68</b><span class="n">Taïwan</span></div>
<div class="r" style="left:45.0px;top:1003.82px;height:15.0px"><b class="s" style="background:#f6a02a">66</b><span class="n">France</span></div>
<div class="r" style="left:216.0px;top:570.20px;height:15.0px"><b class="s" style="background:#f6a02a">65</b><span class="n">Lituanie</span></div>
<div class="r" style="left:216.0px;top:586.37px;height:15.0px"><b class="s" style="background:#f6a02a">64</b><span class="n">Bahamas</span></div>
<div class="r" style="left:216.0px;top:602.54px;height:15.0px"><b class="s" style="background:#f6a02a">64</b><span class="n">États-Unis d'Amérique</span></div>
<div class="r" style="left:216.0px;top:618.71px;height:15.0px"><b class="s" style="background:#f6a02a">63</b><span class="n">Brunéi Darussalam</span></div>
<div class="r" style="left:216.0px;top:634.88px;height:15.0px"><b class="s" style="background:#f6a02a">63</b><span class="n">Chili</span></div>
<div class="r" style="left:216.0px;top:651.05px;height:15.0px"><b class="s" style="background:#f6a02a">63</b><span class="n">République de Corée (Sud)</span></div>
<div class="r" style="left:216.0px;top:667.22px;height:25.6px"><b class="s" style="background:#f6a02a">63</b><span class="n">Saint-Vincent-et-les<br>Grenadines</span></div>
<div class="r" style="left:216.0px;top:693.99px;height:15.0px"><b class="s" style="background:#f6a02a">62</b><span class="n">Cap-Vert</span></div>
<div class="r" style="left:216.0px;top:710.16px;height:15.0px"><b class="s" style="background:#f6a02a">62</b><span class="n">Israël</span></div>
<div class="r" style="left:216.0px;top:726.33px;height:15.0px"><b class="s" style="background:#f6a02a">60</b><span class="n">Dominique</span></div>
<div class="r" style="left:216.0px;top:742.50px;height:15.0px"><b class="s" style="background:#f6a02a">60</b><span class="n">Lettonie</span></div>
<div class="r" style="left:216.0px;top:758.67px;height:15.0px"><b class="s" style="background:#f08424">59</b><span class="n">Tchéquie</span></div>
<div class="r" style="left:216.0px;top:774.84px;height:15.0px"><b class="s" style="background:#f08424">59</b><span class="n">Sainte-Lucie</span></div>
<div class="r" style="left:216.0px;top:791.01px;height:15.0px"><b class="s" style="background:#f08424">58</b><span class="n">Botswana</span></div>
<div class="r" style="left:216.0px;top:807.18px;height:15.0px"><b class="s" style="background:#f08424">58</b><span class="n">Qatar</span></div>
<div class="r" style="left:216.0px;top:823.35px;height:15.0px"><b class="s" style="background:#f08424">58</b><span class="n">Rwanda</span></div>
<div class="r" style="left:216.0px;top:839.52px;height:15.0px"><b class="s" style="background:#f08424">58</b><span class="n">Slovénie</span></div>
<div class="r" style="left:216.0px;top:855.69px;height:15.0px"><b class="s" style="background:#f08424">57</b><span class="n">Arabie Saoudite</span></div>
<div class="r" style="left:216.0px;top:871.86px;height:15.0px"><b class="s" style="background:#f08424">56</b><span class="n">Costa Rica</span></div>
<div class="r" style="left:216.0px;top:888.03px;height:15.0px"><b class="s" style="background:#f08424">56</b><span class="n">Grenade</span></div>
<div class="r" style="left:216.0px;top:904.20px;height:15.0px"><b class="s" style="background:#f08424">56</b><span class="n">Portugal</span></div>
<div class="r" style="left:216.0px;top:920.37px;height:15.0px"><b class="s" style="background:#f08424">55</b><span class="n">Chypre</span></div>
<div class="r" style="left:216.0px;top:936.54px;height:15.0px"><b class="s" style="background:#f08424">55</b><span class="n">Fidji</span></div>
<div class="r" style="left:216.0px;top:952.71px;height:15.0px"><b class="s" style="background:#f08424">55</b><span class="n">Espagne</span></div>
<div class="r" style="left:216.0px;top:968.88px;height:15.0px"><b class="s" style="background:#f08424">53</b><span class="n">Italie</span></div>
<div class="r" style="left:216.0px;top:985.05px;height:15.0px"><b class="s" style="background:#f08424">53</b><span class="n">Pologne</span></div>
<div class="r" style="left:216.0px;top:1001.22px;height:15.0px"><b class="s" style="background:#f08424">52</b><span class="n">Malaisie</span></div>
<div class="r" style="left:387.0px;top:570.20px;height:15.0px"><b class="s" style="background:#f08424">52</b><span class="n">Oman</span></div>
<div class="r" style="left:387.0px;top:586.37px;height:15.0px"><b class="s" style="background:#f08424">50</b><span class="n">Bahreïn</span></div>
<div class="r" style="left:387.0px;top:602.54px;height:15.0px"><b class="s" style="background:#f08424">50</b><span class="n">Géorgie</span></div>
<div class="r" style="left:387.0px;top:618.71px;height:15.0px"><b class="s" style="background:#f08424">50</b><span class="n">Grèce</span></div>
<div class="r" style="left:387.0px;top:634.88px;height:15.0px"><b class="s" style="background:#f08424">50</b><span class="n">Jordanie</span></div>
<div class="r" style="left:387.0px;top:651.05px;height:15.0px"><b class="s" style="background:#ee7328">49</b><span class="n">Malte</span></div>
<div class="r" style="left:387.0px;top:667.22px;height:15.0px"><b class="s" style="background:#ee7328">48</b><span class="n">Maurice</span></div>
<div class="r" style="left:387.0px;top:683.39px;height:15.0px"><b class="s" style="background:#ee7328">48</b><span class="n">Slovaquie</span></div>
<div class="r" style="left:387.0px;top:699.56px;height:15.0px"><b class="s" style="background:#ee7328">47</b><span class="n">Croatie</span></div>
<div class="r" style="left:387.0px;top:715.73px;height:15.0px"><b class="s" style="background:#ee7328">47</b><span class="n">Vanuatu</span></div>
<div class="r" style="left:387.0px;top:731.90px;height:15.0px"><b class="s" style="background:#ee7328">46</b><span class="n">Arménie</span></div>
<div class="r" style="left:387.0px;top:748.07px;height:15.0px"><b class="s" style="background:#ee7328">46</b><span class="n">Koweït</span></div>
<div class="r" style="left:387.0px;top:764.24px;height:15.0px"><b class="s" style="background:#ee7328">46</b><span class="n">Monténégro</span></div>
<div class="r" style="left:387.0px;top:780.41px;height:15.0px"><b class="s" style="background:#ee7328">46</b><span class="n">Namibie</span></div>
<div class="r" style="left:387.0px;top:796.58px;height:15.0px"><b class="s" style="background:#ee7328">46</b><span class="n">Sénégal</span></div>
<div class="r" style="left:387.0px;top:812.75px;height:15.0px"><b class="s" style="background:#ee7328">45</b><span class="n">Bénin</span></div>
<div class="r" style="left:387.0px;top:828.92px;height:15.0px"><b class="s" style="background:#ee7328">45</b><span class="n">Roumanie</span></div>
<div class="r" style="left:387.0px;top:845.09px;height:15.0px"><b class="s" style="background:#ee7328">45</b><span class="n">Sao Tomé-et-Principe</span></div>
<div class="r" style="left:387.0px;top:861.26px;height:15.0px"><b class="s" style="background:#ee7328">44</b><span class="n">Jamaïque</span></div>
<div class="r" style="left:387.0px;top:877.43px;height:15.0px"><b class="s" style="background:#ee7328">44</b><span class="n">Îles Salomon</span></div>
<div class="r" style="left:387.0px;top:893.60px;height:15.0px"><b class="s" style="background:#ee7328">44</b><span class="n">Timor-Leste</span></div>
<div class="r" style="left:387.0px;top:909.77px;height:15.0px"><b class="s" style="background:#ee7328">43</b><span class="n">Chine</span></div>
<div class="r" style="left:387.0px;top:925.94px;height:15.0px"><b class="s" style="background:#ee7328">43</b><span class="n">Côte d'Ivoire</span></div>
<div class="r" style="left:387.0px;top:942.11px;height:15.0px"><b class="s" style="background:#ee7328">43</b><span class="n">Ghana</span></div>
<div class="r" style="left:387.0px;top:958.28px;height:15.0px"><b class="s" style="background:#ee7328">43</b><span class="n">Kosovo</span></div>
<div class="r" style="left:387.0px;top:974.45px;height:15.0px"><b class="s" style="background:#ee7328">42</b><span class="n">République de Moldova</span></div>
<div class="r" style="left:387.0px;top:990.62px;height:15.0px"><b class="s" style="background:#ee7328">41</b><span class="n">Afrique du Sud</span></div>
<div class="r" style="left:558.0px;top:570.20px;height:15.0px"><b class="s" style="background:#ee7328">41</b><span class="n">Trinité-et-Tobago</span></div>
<div class="r" style="left:558.0px;top:586.37px;height:15.0px"><b class="s" style="background:#ee7328">41</b><span class="n">Vietnam</span></div>
<div class="r" style="left:558.0px;top:602.54px;height:15.0px"><b class="s" style="background:#ee7328">40</b><span class="n">Bulgarie</span></div>
<div class="r" style="left:558.0px;top:618.71px;height:15.0px"><b class="s" style="background:#ee7328">40</b><span class="n">Burkina Faso</span></div>
<div class="r" style="left:558.0px;top:634.88px;height:15.0px"><b class="s" style="background:#ee7328">40</b><span class="n">Cuba</span></div>
<div class="r" style="left:558.0px;top:651.05px;height:15.0px"><b class="s" style="background:#ee7328">40</b><span class="n">Guyana</span></div>
<div class="r" style="left:558.0px;top:667.22px;height:15.0px"><b class="s" style="background:#ee7328">40</b><span class="n">Hongrie</span></div>
<div class="r" style="left:558.0px;top:683.39px;height:15.0px"><b class="s" style="background:#ee7328">40</b><span class="n">Macédoine du Nord</span></div>
<div class="r" style="left:558.0px;top:699.56px;height:15.0px"><b class="s" style="background:#ee7328">40</b><span class="n">Tanzanie</span></div>
<div class="r" style="left:558.0px;top:715.73px;height:15.0px"><b class="s" style="background:#e8482b">39</b><span class="n">Albanie</span></div>
<div class="r" style="left:558.0px;top:731.90px;height:15.0px"><b class="s" style="background:#e8482b">39</b><span class="n">Inde</span></div>
<div class="r" style="left:558.0px;top:748.07px;height:15.0px"><b class="s" style="background:#e8482b">39</b><span class="n">Maldives</span></div>
<div class="r" style="left:558.0px;top:764.24px;height:15.0px"><b class="s" style="background:#e8482b">39</b><span class="n">Maroc</span></div>
<div class="r" style="left:558.0px;top:780.41px;height:15.0px"><b class="s" style="background:#e8482b">39</b><span class="n">Tunisie</span></div>
<div class="r" style="left:558.0px;top:796.58px;height:15.0px"><b class="s" style="background:#e8482b">38</b><span class="n">Éthiopie</span></div>
<div class="r" style="left:558.0px;top:812.75px;height:15.0px"><b class="s" style="background:#e8482b">38</b><span class="n">Kazakhstan</span></div>
<div class="r" style="left:558.0px;top:828.92px;height:15.0px"><b class="s" style="background:#e8482b">38</b><span class="n">Suriname</span></div>
<div class="r" style="left:558.0px;top:845.09px;height:15.0px"><b class="s" style="background:#e8482b">37</b><span class="n">Colombie</span></div>
<div class="r" style="left:558.0px;top:861.26px;height:15.0px"><b class="s" style="background:#e8482b">37</b><span class="n">République dominicaine</span></div>
<div class="r" style="left:558.0px;top:877.43px;height:15.0px"><b class="s" style="background:#e8482b">37</b><span class="n">Gambie</span></div>
<div class="r" style="left:558.0px;top:893.60px;height:15.0px"><b class="s" style="background:#e8482b">37</b><span class="n">Lesotho</span></div>
<div class="r" style="left:558.0px;top:909.77px;height:15.0px"><b class="s" style="background:#e8482b">37</b><span class="n">Zambie</span></div>
<div class="r" style="left:558.0px;top:925.94px;height:15.0px"><b class="s" style="background:#e8482b">36</b><span class="n">Argentine</span></div>
<div class="r" style="left:558.0px;top:942.11px;height:15.0px"><b class="s" style="background:#e8482b">36</b><span class="n">Belize</span></div>
<div class="r" style="left:558.0px;top:958.28px;height:15.0px"><b class="s" style="background:#e8482b">36</b><span class="n">Ukraine</span></div>
<div class="r" style="left:558.0px;top:974.45px;height:15.0px"><b class="s" style="background:#e8482b">35</b><span class="n">Brésil</span></div>
<div class="r" style="left:558.0px;top:990.62px;height:15.0px"><b class="s" style="background:#e8482b">35</b><span class="n">Sri Lanka</span></div>
<div class="r" style="left:729.0px;top:570.20px;height:15.0px"><b class="s" style="background:#e8482b">34</b><span class="n">Algérie</span></div>
<div class="r" style="left:729.0px;top:586.37px;height:15.0px"><b class="s" style="background:#e8482b">34</b><span class="n">Bosnie-Herzégovine</span></div>
<div class="r" style="left:729.0px;top:602.54px;height:15.0px"><b class="s" style="background:#e8482b">34</b><span class="n">Indonésie</span></div>
<div class="r" style="left:729.0px;top:618.71px;height:15.0px"><b class="s" style="background:#e8482b">34</b><span class="n">Laos</span></div>
<div class="r" style="left:729.0px;top:634.88px;height:15.0px"><b class="s" style="background:#e8482b">34</b><span class="n">Malawi</span></div>
<div class="r" style="left:729.0px;top:651.05px;height:15.0px"><b class="s" style="background:#e8482b">34</b><span class="n">Népal</span></div>
<div class="r" style="left:729.0px;top:667.22px;height:15.0px"><b class="s" style="background:#e8482b">34</b><span class="n">Sierra Leone</span></div>
<div class="r" style="left:729.0px;top:683.39px;height:15.0px"><b class="s" style="background:#e8482b">33</b><span class="n">Équateur</span></div>
<div class="r" style="left:729.0px;top:699.56px;height:15.0px"><b class="s" style="background:#e8482b">33</b><span class="n">Panama</span></div>
<div class="r" style="left:729.0px;top:715.73px;height:15.0px"><b class="s" style="background:#e8482b">33</b><span class="n">Serbie</span></div>
<div class="r" style="left:729.0px;top:731.90px;height:15.0px"><b class="s" style="background:#e8482b">33</b><span class="n">Thaïlande</span></div>
<div class="r" style="left:729.0px;top:748.07px;height:15.0px"><b class="s" style="background:#e8482b">32</b><span class="n">Angola</span></div>
<div class="r" style="left:729.0px;top:764.24px;height:15.0px"><b class="s" style="background:#e8482b">32</b><span class="n">El Salvador</span></div>
<div class="r" style="left:729.0px;top:780.41px;height:15.0px"><b class="s" style="background:#e8482b">32</b><span class="n">Philippines</span></div>
<div class="r" style="left:729.0px;top:796.58px;height:15.0px"><b class="s" style="background:#e8482b">32</b><span class="n">Togo</span></div>
<div class="r" style="left:729.0px;top:812.75px;height:15.0px"><b class="s" style="background:#e8482b">31</b><span class="n">Bélarus</span></div>
<div class="r" style="left:729.0px;top:828.92px;height:15.0px"><b class="s" style="background:#e8482b">31</b><span class="n">Djibouti</span></div>
<div class="r" style="left:729.0px;top:845.09px;height:15.0px"><b class="s" style="background:#e8482b">31</b><span class="n">Mongolie</span></div>
<div class="r" style="left:729.0px;top:861.26px;height:15.0px"><b class="s" style="background:#e8482b">31</b><span class="n">Niger</span></div>
<div class="r" style="left:729.0px;top:877.43px;height:15.0px"><b class="s" style="background:#e8482b">31</b><span class="n">Turquie</span></div>
<div class="r" style="left:729.0px;top:893.60px;height:15.0px"><b class="s" style="background:#e8482b">31</b><span class="n">Ouzbékistan</span></div>
<div class="r" style="left:729.0px;top:909.77px;height:15.0px"><b class="s" style="background:#e8482b">30</b><span class="n">Azerbaïdjan</span></div>
<div class="r" style="left:729.0px;top:925.94px;height:15.0px"><b class="s" style="background:#e8482b">30</b><span class="n">Égypte</span></div>
<div class="r" style="left:729.0px;top:942.11px;height:15.0px"><b class="s" style="background:#e8482b">30</b><span class="n">Kenya</span></div>
<div class="r" style="left:729.0px;top:958.28px;height:15.0px"><b class="s" style="background:#e8482b">30</b><span class="n">Mauritanie</span></div>
<div class="r" style="left:729.0px;top:974.45px;height:15.0px"><b class="s" style="background:#e8482b">30</b><span class="n">Pérou</span></div>
<div class="r" style="left:729.0px;top:990.62px;height:15.0px"><b class="s" style="background:#dc1f2e">29</b><span class="n">Gabon</span></div>
<div class="r" style="left:900.0px;top:570.20px;height:15.0px"><b class="s" style="background:#dc1f2e">28</b><span class="n">Bolivie</span></div>
<div class="r" style="left:900.0px;top:586.37px;height:15.0px"><b class="s" style="background:#dc1f2e">28</b><span class="n">Irak</span></div>
<div class="r" style="left:900.0px;top:602.54px;height:15.0px"><b class="s" style="background:#dc1f2e">28</b><span class="n">Libéria</span></div>
<div class="r" style="left:900.0px;top:618.71px;height:15.0px"><b class="s" style="background:#dc1f2e">28</b><span class="n">Mali</span></div>
<div class="r" style="left:900.0px;top:634.88px;height:15.0px"><b class="s" style="background:#dc1f2e">28</b><span class="n">Pakistan</span></div>
<div class="r" style="left:900.0px;top:651.05px;height:15.0px"><b class="s" style="background:#dc1f2e">27</b><span class="n">Mexique</span></div>
<div class="r" style="left:900.0px;top:667.22px;height:15.0px"><b class="s" style="background:#dc1f2e">26</b><span class="n">Cameroun</span></div>
<div class="r" style="left:900.0px;top:683.39px;height:15.0px"><b class="s" style="background:#dc1f2e">26</b><span class="n">Guatemala</span></div>
<div class="r" style="left:900.0px;top:699.56px;height:15.0px"><b class="s" style="background:#dc1f2e">26</b><span class="n">Guinée</span></div>
<div class="r" style="left:900.0px;top:715.73px;height:15.0px"><b class="s" style="background:#dc1f2e">26</b><span class="n">Kirghizistan</span></div>
<div class="r" style="left:900.0px;top:731.90px;height:15.0px"><b class="s" style="background:#dc1f2e">26</b><span class="n">Nigéria</span></div>
<div class="r" style="left:900.0px;top:748.07px;height:25.6px"><b class="s" style="background:#dc1f2e">26</b><span class="n">Papouasie-Nouvelle-<br>Guinée</span></div>
<div class="r" style="left:900.0px;top:774.84px;height:15.0px"><b class="s" style="background:#dc1f2e">25</b><span class="n">Madagascar</span></div>
<div class="r" style="left:900.0px;top:791.01px;height:15.0px"><b class="s" style="background:#dc1f2e">25</b><span class="n">Ouganda</span></div>
<div class="r" style="left:900.0px;top:807.18px;height:15.0px"><b class="s" style="background:#dc1f2e">24</b><span class="n">Bangladesh</span></div>
<div class="r" style="left:900.0px;top:823.35px;height:15.0px"><b class="s" style="background:#dc1f2e">24</b><span class="n">République centrafricaine</span></div>
<div class="r" style="left:900.0px;top:839.52px;height:15.0px"><b class="s" style="background:#dc1f2e">24</b><span class="n">Paraguay</span></div>
<div class="r" style="left:900.0px;top:855.69px;height:15.0px"><b class="s" style="background:#dc1f2e">23</b><span class="n">République du Congo</span></div>
<div class="r" style="left:900.0px;top:871.86px;height:15.0px"><b class="s" style="background:#dc1f2e">23</b><span class="n">Eswatini</span></div>
<div class="r" style="left:900.0px;top:888.03px;height:15.0px"><b class="s" style="background:#dc1f2e">23</b><span class="n">Iran</span></div>
<div class="r" style="left:900.0px;top:904.20px;height:15.0px"><b class="s" style="background:#dc1f2e">23</b><span class="n">Liban</span></div>
<div class="r" style="left:900.0px;top:920.37px;height:15.0px"><b class="s" style="background:#dc1f2e">22</b><span class="n">Tchad</span></div>
<div class="r" style="left:900.0px;top:936.54px;height:15.0px"><b class="s" style="background:#dc1f2e">22</b><span class="n">Honduras</span></div>
<div class="r" style="left:900.0px;top:952.71px;height:15.0px"><b class="s" style="background:#dc1f2e">22</b><span class="n">Russie</span></div>
<div class="r" style="left:900.0px;top:968.88px;height:15.0px"><b class="s" style="background:#dc1f2e">22</b><span class="n">Zimbabwe</span></div>
<div class="r" style="left:900.0px;top:985.05px;height:15.0px"><b class="s" style="background:#dc1f2e">21</b><span class="n">Guinée Bissau</span></div>
<div class="r" style="left:1071.0px;top:570.20px;height:15.0px"><b class="s" style="background:#dc1f2e">21</b><span class="n">Mozambique</span></div>
<div class="r" style="left:1071.0px;top:586.37px;height:15.0px"><b class="s" style="background:#dc1f2e">20</b><span class="n">Cambodge</span></div>
<div class="r" style="left:1071.0px;top:602.54px;height:15.0px"><b class="s" style="background:#dc1f2e">20</b><span class="n">Comores</span></div>
<div class="r" style="left:1071.0px;top:618.71px;height:25.6px"><b class="s" style="background:#dc1f2e">20</b><span class="n">République démocratique<br>du Congo</span></div>
<div class="r" style="left:1071.0px;top:645.48px;height:15.0px"><b class="s" style="background:#b51c25">19</b><span class="n">Tadjikistan</span></div>
<div class="r" style="left:1071.0px;top:661.65px;height:15.0px"><b class="s" style="background:#b51c25">17</b><span class="n">Burundi</span></div>
<div class="r" style="left:1071.0px;top:677.82px;height:15.0px"><b class="s" style="background:#b51c25">17</b><span class="n">Turkménistan</span></div>
<div class="r" style="left:1071.0px;top:693.99px;height:15.0px"><b class="s" style="background:#b51c25">16</b><span class="n">Afghanistan</span></div>
<div class="r" style="left:1071.0px;top:710.16px;height:15.0px"><b class="s" style="background:#b51c25">16</b><span class="n">Haïti</span></div>
<div class="r" style="left:1071.0px;top:726.33px;height:15.0px"><b class="s" style="background:#b51c25">16</b><span class="n">Myanmar</span></div>
<div class="r" style="left:1071.0px;top:742.50px;height:15.0px"><b class="s" style="background:#b51c25">15</b><span class="n">Guinée équatoriale</span></div>
<div class="r" style="left:1071.0px;top:758.67px;height:36.9px"><b class="s" style="background:#b51c25">15</b><span class="n">République populaire<br>démocratique<br>de Corée (Nord)</span></div>
<div class="r" style="left:1071.0px;top:796.74px;height:15.0px"><b class="s" style="background:#b51c25">15</b><span class="n">Syrie</span></div>
<div class="r" style="left:1071.0px;top:812.91px;height:15.0px"><b class="s" style="background:#b51c25">14</b><span class="n">Nicaragua</span></div>
<div class="r" style="left:1071.0px;top:829.08px;height:15.0px"><b class="s" style="background:#b51c25">14</b><span class="n">Soudan</span></div>
<div class="r" style="left:1071.0px;top:845.25px;height:15.0px"><b class="s" style="background:#b51c25">13</b><span class="n">Erythrée</span></div>
<div class="r" style="left:1071.0px;top:861.42px;height:15.0px"><b class="s" style="background:#b51c25">13</b><span class="n">Libye</span></div>
<div class="r" style="left:1071.0px;top:877.59px;height:15.0px"><b class="s" style="background:#b51c25">13</b><span class="n">Yémen</span></div>
<div class="r" style="left:1071.0px;top:893.76px;height:15.0px"><b class="s" style="background:#b51c25">10</b><span class="n">Venezuela</span></div>
<div class="r" style="left:1071.0px;top:909.93px;height:15.0px"><b class="s" style="background:#8c161a">9</b><span class="n">Somalie</span></div>
<div class="r" style="left:1071.0px;top:926.10px;height:15.0px"><b class="s" style="background:#8c161a">9</b><span class="n">Soudan du Sud</span></div>
</div>
<!-- legend -->
<div class="t cond thick2" id="lgs" style="transform:scaleX(0.5947);left:77.5px;top:1084px;font-size:15px;color:#0d0d0d">SCORE</div>
<div style="position:absolute;left:77.5px;top:1101px;width:297px;height:15.5px;background:linear-gradient(90deg,#7f1416 0%,#a81a22 14%,#de1f2a 24%,#ea4a2b 37%,#ef7526 50%,#f39121 62%,#f9ad1c 74%,#fdd00d 86%,#fff200 96%,#fff200 100%)"></div>
<div class="t cd" id="fc" style="left:45px;top:1102.4px;font-size:8px;line-height:7.6px;color:#444">Fortement<br>corrompu</div>
<div class="t cd" id="tp" style="left:376.5px;top:1102.4px;font-size:8px;line-height:7.6px;color:#444">Très peu<br>corrompu</div>
<svg class="t" style="left:0;top:1095px" width="520" height="30" viewBox="0 1095 520 30">
<path d="M87.8 1116.3h3.2l-1.6 2.2z" fill="#8a1518"/>
<path d="M118.1 1116.3h3.2l-1.6 2.2z" fill="#b31c24"/>
<path d="M148.4 1116.3h3.2l-1.6 2.2z" fill="#de202b"/>
<path d="M178.7 1116.3h3.2l-1.6 2.2z" fill="#ea4b2b"/>
<path d="M209.0 1116.3h3.2l-1.6 2.2z" fill="#ef7326"/>
<path d="M239.4 1116.3h3.2l-1.6 2.2z" fill="#f28c22"/>
<path d="M269.8 1116.3h3.2l-1.6 2.2z" fill="#f6a41e"/>
<path d="M297.0 1116.3h3.2l-1.6 2.2z" fill="#fbc015"/>
<path d="M327.3 1116.3h3.2l-1.6 2.2z" fill="#fedc08"/>
<path d="M357.7 1116.3h3.2l-1.6 2.2z" fill="#fff200"/>
<rect x="407" y="1101" width="23.4" height="15.8" fill="#dfdfdf"/><path d="M417.1 1116.6h3.2l-1.6 2.2z" fill="#dfdfdf"/>
<rect x="443.4" y="1101" width="23.2" height="15.8" fill="#8f8f8f"/><path d="M453.4 1116.6h3.2l-1.6 2.2z" fill="#8f8f8f"/>
<path d="M449.2 1109h11.6" stroke="#c9c9c9" stroke-width="1" stroke-dasharray="1.4 1.8"/>
<rect x="479" y="1101" width="23.2" height="15.8" fill="#8f8f8f"/><path d="M489 1116.6h3.2l-1.6 2.2z" fill="#8f8f8f"/>
<path d="M484.6 1109h4.6M491.8 1109h4.6" stroke="#d0d0d0" stroke-width="1.3"/>
</svg>
<div class="t tk" style="left:69.4px;top:1126.6px;width:40px">0-9</div>
<div class="t tk" style="left:99.7px;top:1126.6px;width:40px">10-19</div>
<div class="t tk" style="left:130.0px;top:1126.6px;width:40px">20-29</div>
<div class="t tk" style="left:160.3px;top:1126.6px;width:40px">30-39</div>
<div class="t tk" style="left:190.6px;top:1126.6px;width:40px">40-49</div>
<div class="t tk" style="left:221.0px;top:1126.6px;width:40px">50-59</div>
<div class="t tk" style="left:251.4px;top:1126.6px;width:40px">60-69</div>
<div class="t tk" style="left:278.6px;top:1126.6px;width:40px">70-79</div>
<div class="t tk" style="left:308.9px;top:1126.6px;width:40px">80-89</div>
<div class="t tk" style="left:339.3px;top:1126.6px;width:40px">90-100</div>
<div class="t tk2" style="left:398.6px;top:1126.4px;width:40px">Pas de<br>données</div>
<div class="t tk2" style="left:435px;top:1126.4px;width:40px">Frontières<br>litigieuses*</div>
<div class="t tk2" style="left:470.6px;top:1126.4px;width:40px">Lignes de<br>contrôle*</div>
<svg class="t" style="left:1180px;top:1152px" width="60" height="20" viewBox="1180 1152 60 20" fill="none" stroke="#111">
<circle cx="1189.5" cy="1161.3" r="6.3" stroke-width="1.3"/><circle cx="1208.5" cy="1161.3" r="6.3" stroke-width="1.3"/><circle cx="1227.7" cy="1161.3" r="6.3" stroke-width="1.3"/>
<path d="M1188.6 1159.9a1.9 1.9 0 1 0 0 2.8M1193 1159.9a1.9 1.9 0 1 0 0 2.8" stroke-width="1.1"/>
<circle cx="1208.5" cy="1157.7" r="1" fill="#111" stroke="none"/><path d="M1206.8 1159.4h3.4v3h-.8v3h-1.8v-3h-.8z" fill="#111" stroke="none"/>
<path d="M1225 1160h5.4M1225 1162.7h5.4" stroke-width="1.2"/>
</svg>
<div class="t" id="disc" style="transform:scaleX(1.0729);left:45px;top:1149.5px;font-size:6px;line-height:6.9px;color:#555;letter-spacing:-.12px">Les désignations utilisées ainsi que les représentations sur cette carte correspondent, à notre connaissance, à celles de l'Organisation des Nations Unies de janvier 2026. Elles n'expriment<br>aucunement l'opinion de Transparency International quant au statut juridique d'un pays, d'un territoire, d'une ville ou d'une zone ou de leurs autorités, ni quant à la délimitation de leurs frontières.</div>
<!-- right footer -->
<div class="t cond thick3" id="hash" style="transform:scaleX(0.7467);left:1143.3px;top:1090px;font-size:25px;color:#4a9ccd">#IPC2025</div>
<div class="t cond thick3" id="url" style="transform:scaleX(0.7813);left:966.4px;top:1120.5px;font-size:25px;color:#0d0d0d">www.transparency.org/cpi</div>
<div class="t" id="lic" style="transform:scaleX(1.0755);left:768.5px;top:1155.5px;font-size:9.2px;color:#333">Ce document de Transparency International (2026) est publié sous la licence CC BY-ND 4.0.</div>

</div>
</body></html>
